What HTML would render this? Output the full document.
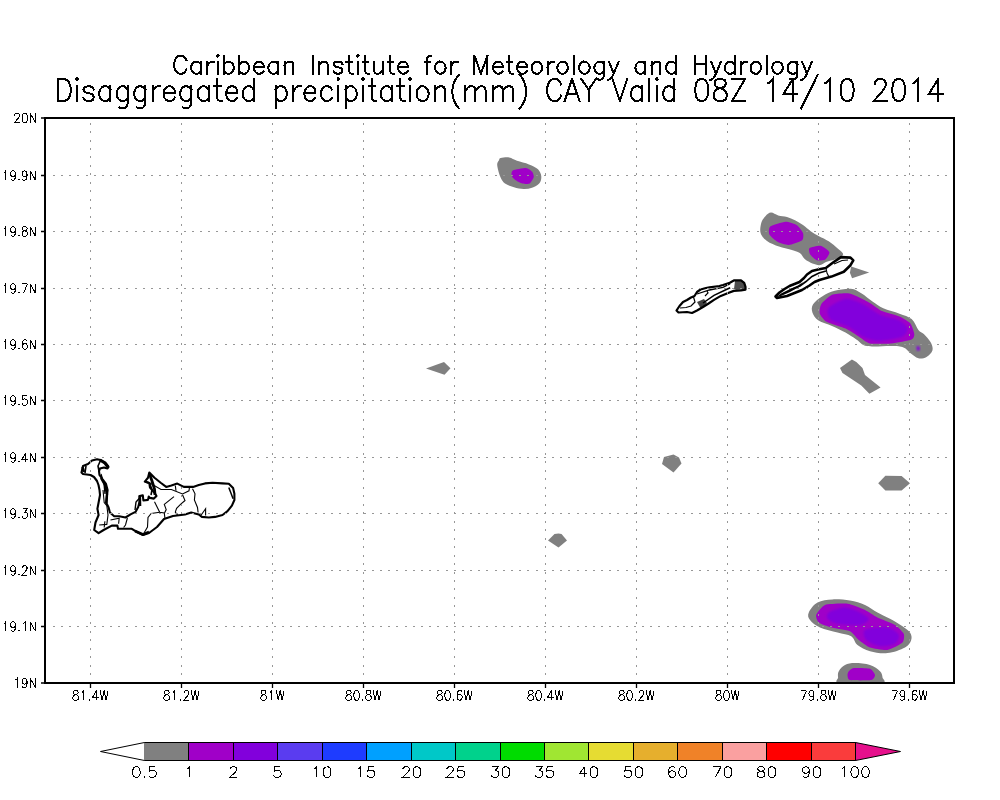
<!DOCTYPE html>
<html><head><meta charset="utf-8"><style>
html,body{margin:0;padding:0;background:#fff;width:1000px;height:800px;overflow:hidden}
svg{display:block}
</style></head><body>
<svg width="1000" height="800" viewBox="0 0 1000 800">
<rect width="1000" height="800" fill="#fff"/>

<path d="M186.29 60.05 185.49 58.35 183.88 56.65 182.27 55.80 179.05 55.80 177.44 56.65 175.83 58.35 175.02 60.05 174.22 62.60 174.22 66.85 175.02 69.40 175.83 71.10 177.44 72.80 179.05 73.65 182.27 73.65 183.88 72.80 185.49 71.10 186.29 69.40M200.78 61.75 200.78 73.65M200.78 64.30 199.17 62.60 197.56 61.75 195.15 61.75 193.54 62.60 191.93 64.30 191.12 66.85 191.12 68.55 191.93 71.10 193.54 72.80 195.15 73.65 197.56 73.65 199.17 72.80 200.78 71.10M207.22 61.75 207.22 73.65M207.22 66.85 208.03 64.30 209.64 62.60 211.25 61.75 213.66 61.75M216.88 55.80 217.69 56.65 218.49 55.80 217.69 54.95 216.88 55.80M217.69 61.75 217.69 73.65M224.12 55.80 224.12 73.65M224.12 64.30 225.74 62.60 227.35 61.75 229.76 61.75 231.37 62.60 232.98 64.30 233.79 66.85 233.79 68.55 232.98 71.10 231.37 72.80 229.76 73.65 227.35 73.65 225.74 72.80 224.12 71.10M239.42 55.80 239.42 73.65M239.42 64.30 241.03 62.60 242.64 61.75 245.06 61.75 246.67 62.60 248.28 64.30 249.08 66.85 249.08 68.55 248.28 71.10 246.67 72.80 245.06 73.65 242.64 73.65 241.03 72.80 239.42 71.10M253.91 66.85 263.57 66.85 263.57 65.15 262.76 63.45 261.96 62.60 260.35 61.75 257.94 61.75 256.33 62.60 254.72 64.30 253.91 66.85 253.91 68.55 254.72 71.10 256.33 72.80 257.94 73.65 260.35 73.65 261.96 72.80 263.57 71.10M278.06 61.75 278.06 73.65M278.06 64.30 276.45 62.60 274.84 61.75 272.43 61.75 270.81 62.60 269.21 64.30 268.40 66.85 268.40 68.55 269.21 71.10 270.81 72.80 272.43 73.65 274.84 73.65 276.45 72.80 278.06 71.10M284.50 61.75 284.50 73.65M284.50 65.15 286.92 62.60 288.53 61.75 290.94 61.75 292.55 62.60 293.36 65.15 293.36 73.65M312.68 55.80 312.68 73.65M319.12 61.75 319.12 73.65M319.12 65.15 321.53 62.60 323.14 61.75 325.56 61.75 327.17 62.60 327.97 65.15 327.97 73.65M342.46 64.30 341.66 62.60 339.24 61.75 336.83 61.75 334.41 62.60 333.61 64.30 334.41 66.00 336.02 66.85 340.05 67.70 341.66 68.55 342.46 70.25 342.46 71.10 341.66 72.80 339.24 73.65 336.83 73.65 334.41 72.80 333.61 71.10M348.90 55.80 348.90 70.25 349.71 72.80 351.32 73.65 352.93 73.65M346.49 61.75 352.12 61.75M356.95 55.80 357.75 56.65 358.56 55.80 357.75 54.95 356.95 55.80M357.75 61.75 357.75 73.65M365.00 55.80 365.00 70.25 365.81 72.80 367.42 73.65 369.03 73.65M362.59 61.75 368.22 61.75M373.86 61.75 373.86 70.25 374.66 72.80 376.27 73.65 378.69 73.65 380.30 72.80 382.71 70.25M382.71 61.75 382.71 73.65M389.96 55.80 389.96 70.25 390.76 72.80 392.37 73.65 393.98 73.65M387.54 61.75 393.18 61.75M398.00 66.85 407.67 66.85 407.67 65.15 406.86 63.45 406.06 62.60 404.45 61.75 402.03 61.75 400.42 62.60 398.81 64.30 398.00 66.85 398.00 68.55 398.81 71.10 400.42 72.80 402.03 73.65 404.45 73.65 406.06 72.80 407.67 71.10M431.01 55.80 429.40 55.80 427.79 56.65 426.99 59.20 426.99 73.65M424.57 61.75 430.21 61.75M439.06 61.75 437.45 62.60 435.84 64.30 435.04 66.85 435.04 68.55 435.84 71.10 437.45 72.80 439.06 73.65 441.48 73.65 443.09 72.80 444.70 71.10 445.50 68.55 445.50 66.85 444.70 64.30 443.09 62.60 441.48 61.75 439.06 61.75M451.14 61.75 451.14 73.65M451.14 66.85 451.94 64.30 453.55 62.60 455.16 61.75 457.58 61.75M474.48 55.80 474.48 73.65M474.48 55.80 480.92 73.65M487.36 55.80 480.92 73.65M487.36 55.80 487.36 73.65M493.00 66.85 502.66 66.85 502.66 65.15 501.85 63.45 501.05 62.60 499.44 61.75 497.02 61.75 495.41 62.60 493.80 64.30 493.00 66.85 493.00 68.55 493.80 71.10 495.41 72.80 497.02 73.65 499.44 73.65 501.05 72.80 502.66 71.10M509.10 55.80 509.10 70.25 509.90 72.80 511.51 73.65 513.12 73.65M506.68 61.75 512.32 61.75M517.14 66.85 526.81 66.85 526.81 65.15 526.00 63.45 525.20 62.60 523.59 61.75 521.17 61.75 519.56 62.60 517.95 64.30 517.14 66.85 517.14 68.55 517.95 71.10 519.56 72.80 521.17 73.65 523.59 73.65 525.20 72.80 526.81 71.10M535.66 61.75 534.05 62.60 532.44 64.30 531.63 66.85 531.63 68.55 532.44 71.10 534.05 72.80 535.66 73.65 538.08 73.65 539.69 72.80 541.30 71.10 542.10 68.55 542.10 66.85 541.30 64.30 539.69 62.60 538.08 61.75 535.66 61.75M547.74 61.75 547.74 73.65M547.74 66.85 548.54 64.30 550.15 62.60 551.76 61.75 554.17 61.75M561.42 61.75 559.81 62.60 558.20 64.30 557.39 66.85 557.39 68.55 558.20 71.10 559.81 72.80 561.42 73.65 563.84 73.65 565.45 72.80 567.06 71.10 567.86 68.55 567.86 66.85 567.06 64.30 565.45 62.60 563.84 61.75 561.42 61.75M573.50 55.80 573.50 73.65M583.15 61.75 581.55 62.60 579.94 64.30 579.13 66.85 579.13 68.55 579.94 71.10 581.55 72.80 583.15 73.65 585.57 73.65 587.18 72.80 588.79 71.10 589.60 68.55 589.60 66.85 588.79 64.30 587.18 62.60 585.57 61.75 583.15 61.75M604.09 61.75 604.09 75.35 603.28 77.90 602.48 78.75 600.87 79.60 598.45 79.60 596.84 78.75M604.09 64.30 602.48 62.60 600.87 61.75 598.45 61.75 596.84 62.60 595.23 64.30 594.42 66.85 594.42 68.55 595.23 71.10 596.84 72.80 598.45 73.65 600.87 73.65 602.48 72.80 604.09 71.10M608.91 61.75 613.75 73.65M618.58 61.75 613.75 73.65 612.13 77.05 610.53 78.75 608.91 79.60 608.11 79.60M645.14 61.75 645.14 73.65M645.14 64.30 643.53 62.60 641.92 61.75 639.51 61.75 637.89 62.60 636.29 64.30 635.48 66.85 635.48 68.55 636.29 71.10 637.89 72.80 639.51 73.65 641.92 73.65 643.53 72.80 645.14 71.10M651.58 61.75 651.58 73.65M651.58 65.15 654.00 62.60 655.61 61.75 658.02 61.75 659.63 62.60 660.44 65.15 660.44 73.65M675.73 55.80 675.73 73.65M675.73 64.30 674.12 62.60 672.51 61.75 670.10 61.75 668.49 62.60 666.88 64.30 666.07 66.85 666.07 68.55 666.88 71.10 668.49 72.80 670.10 73.65 672.51 73.65 674.12 72.80 675.73 71.10M695.05 55.80 695.05 73.65M706.32 55.80 706.32 73.65M695.05 64.30 706.32 64.30M711.15 61.75 715.98 73.65M720.81 61.75 715.98 73.65 714.37 77.05 712.76 78.75 711.15 79.60 710.35 79.60M734.50 55.80 734.50 73.65M734.50 64.30 732.88 62.60 731.28 61.75 728.86 61.75 727.25 62.60 725.64 64.30 724.84 66.85 724.84 68.55 725.64 71.10 727.25 72.80 728.86 73.65 731.28 73.65 732.88 72.80 734.50 71.10M740.93 61.75 740.93 73.65M740.93 66.85 741.74 64.30 743.35 62.60 744.96 61.75 747.38 61.75M754.62 61.75 753.01 62.60 751.40 64.30 750.60 66.85 750.60 68.55 751.40 71.10 753.01 72.80 754.62 73.65 757.04 73.65 758.64 72.80 760.26 71.10 761.06 68.55 761.06 66.85 760.26 64.30 758.64 62.60 757.04 61.75 754.62 61.75M766.69 55.80 766.69 73.65M776.36 61.75 774.75 62.60 773.13 64.30 772.33 66.85 772.33 68.55 773.13 71.10 774.75 72.80 776.36 73.65 778.77 73.65 780.38 72.80 781.99 71.10 782.80 68.55 782.80 66.85 781.99 64.30 780.38 62.60 778.77 61.75 776.36 61.75M797.29 61.75 797.29 75.35 796.48 77.90 795.67 78.75 794.07 79.60 791.65 79.60 790.04 78.75M797.29 64.30 795.67 62.60 794.07 61.75 791.65 61.75 790.04 62.60 788.43 64.30 787.62 66.85 787.62 68.55 788.43 71.10 790.04 72.80 791.65 73.65 794.07 73.65 795.67 72.80 797.29 71.10M802.12 61.75 806.94 73.65M811.78 61.75 806.94 73.65 805.34 77.05 803.73 78.75 802.12 79.60 801.31 79.60" fill="none" stroke="#000" stroke-width="2" stroke-linecap="square" stroke-linejoin="miter" shape-rendering="crispEdges"/>
<path d="M57.78 79.02 57.78 101.03M57.78 79.02 64.22 79.02 66.98 80.07 68.82 82.17 69.74 84.26 70.66 87.41 70.66 92.65 69.74 95.79 68.82 97.89 66.98 99.98 64.22 101.03 57.78 101.03M76.18 79.02 77.10 80.07 78.02 79.02 77.10 77.98 76.18 79.02M77.10 86.36 77.10 101.03M93.66 89.50 92.74 87.41 89.98 86.36 87.22 86.36 84.46 87.41 83.54 89.50 84.46 91.60 86.30 92.65 90.90 93.70 92.74 94.74 93.66 96.84 93.66 97.89 92.74 99.98 89.98 101.03 87.22 101.03 84.46 99.98 83.54 97.89M110.22 86.36 110.22 101.03M110.22 89.50 108.38 87.41 106.54 86.36 103.78 86.36 101.94 87.41 100.10 89.50 99.18 92.65 99.18 94.74 100.10 97.89 101.94 99.98 103.78 101.03 106.54 101.03 108.38 99.98 110.22 97.89M127.70 86.36 127.70 103.13 126.78 106.27 125.86 107.32 124.02 108.37 121.26 108.37 119.42 107.32M127.70 89.50 125.86 87.41 124.02 86.36 121.26 86.36 119.42 87.41 117.58 89.50 116.66 92.65 116.66 94.74 117.58 97.89 119.42 99.98 121.26 101.03 124.02 101.03 125.86 99.98 127.70 97.89M145.18 86.36 145.18 103.13 144.26 106.27 143.34 107.32 141.50 108.37 138.74 108.37 136.90 107.32M145.18 89.50 143.34 87.41 141.50 86.36 138.74 86.36 136.90 87.41 135.06 89.50 134.14 92.65 134.14 94.74 135.06 97.89 136.90 99.98 138.74 101.03 141.50 101.03 143.34 99.98 145.18 97.89M152.54 86.36 152.54 101.03M152.54 92.65 153.46 89.50 155.30 87.41 157.14 86.36 159.90 86.36M163.58 92.65 174.62 92.65 174.62 90.55 173.70 88.46 172.78 87.41 170.94 86.36 168.18 86.36 166.34 87.41 164.50 89.50 163.58 92.65 163.58 94.74 164.50 97.89 166.34 99.98 168.18 101.03 170.94 101.03 172.78 99.98 174.62 97.89M191.18 86.36 191.18 103.13 190.26 106.27 189.34 107.32 187.50 108.37 184.74 108.37 182.90 107.32M191.18 89.50 189.34 87.41 187.50 86.36 184.74 86.36 182.90 87.41 181.06 89.50 180.14 92.65 180.14 94.74 181.06 97.89 182.90 99.98 184.74 101.03 187.50 101.03 189.34 99.98 191.18 97.89M208.66 86.36 208.66 101.03M208.66 89.50 206.82 87.41 204.98 86.36 202.22 86.36 200.38 87.41 198.54 89.50 197.62 92.65 197.62 94.74 198.54 97.89 200.38 99.98 202.22 101.03 204.98 101.03 206.82 99.98 208.66 97.89M216.94 79.02 216.94 96.84 217.86 99.98 219.70 101.03 221.54 101.03M214.18 86.36 220.62 86.36M226.14 92.65 237.18 92.65 237.18 90.55 236.26 88.46 235.34 87.41 233.50 86.36 230.74 86.36 228.90 87.41 227.06 89.50 226.14 92.65 226.14 94.74 227.06 97.89 228.90 99.98 230.74 101.03 233.50 101.03 235.34 99.98 237.18 97.89M253.74 79.02 253.74 101.03M253.74 89.50 251.90 87.41 250.06 86.36 247.30 86.36 245.46 87.41 243.62 89.50 242.70 92.65 242.70 94.74 243.62 97.89 245.46 99.98 247.30 101.03 250.06 101.03 251.90 99.98 253.74 97.89M275.82 86.36 275.82 108.37M275.82 89.50 277.66 87.41 279.50 86.36 282.26 86.36 284.10 87.41 285.94 89.50 286.86 92.65 286.86 94.74 285.94 97.89 284.10 99.98 282.26 101.03 279.50 101.03 277.66 99.98 275.82 97.89M293.30 86.36 293.30 101.03M293.30 92.65 294.22 89.50 296.06 87.41 297.90 86.36 300.66 86.36M304.34 92.65 315.38 92.65 315.38 90.55 314.46 88.46 313.54 87.41 311.70 86.36 308.94 86.36 307.10 87.41 305.26 89.50 304.34 92.65 304.34 94.74 305.26 97.89 307.10 99.98 308.94 101.03 311.70 101.03 313.54 99.98 315.38 97.89M331.94 89.50 330.10 87.41 328.26 86.36 325.50 86.36 323.66 87.41 321.82 89.50 320.90 92.65 320.90 94.74 321.82 97.89 323.66 99.98 325.50 101.03 328.26 101.03 330.10 99.98 331.94 97.89M337.46 79.02 338.38 80.07 339.30 79.02 338.38 77.98 337.46 79.02M338.38 86.36 338.38 101.03M345.74 86.36 345.74 108.37M345.74 89.50 347.58 87.41 349.42 86.36 352.18 86.36 354.02 87.41 355.86 89.50 356.78 92.65 356.78 94.74 355.86 97.89 354.02 99.98 352.18 101.03 349.42 101.03 347.58 99.98 345.74 97.89M362.30 79.02 363.22 80.07 364.14 79.02 363.22 77.98 362.30 79.02M363.22 86.36 363.22 101.03M371.50 79.02 371.50 96.84 372.42 99.98 374.26 101.03 376.10 101.03M368.74 86.36 375.18 86.36M391.74 86.36 391.74 101.03M391.74 89.50 389.90 87.41 388.06 86.36 385.30 86.36 383.46 87.41 381.62 89.50 380.70 92.65 380.70 94.74 381.62 97.89 383.46 99.98 385.30 101.03 388.06 101.03 389.90 99.98 391.74 97.89M400.02 79.02 400.02 96.84 400.94 99.98 402.78 101.03 404.62 101.03M397.26 86.36 403.70 86.36M409.22 79.02 410.14 80.07 411.06 79.02 410.14 77.98 409.22 79.02M410.14 86.36 410.14 101.03M421.18 86.36 419.34 87.41 417.50 89.50 416.58 92.65 416.58 94.74 417.50 97.89 419.34 99.98 421.18 101.03 423.94 101.03 425.78 99.98 427.62 97.89 428.54 94.74 428.54 92.65 427.62 89.50 425.78 87.41 423.94 86.36 421.18 86.36M434.98 86.36 434.98 101.03M434.98 90.55 437.74 87.41 439.58 86.36 442.34 86.36 444.18 87.41 445.10 90.55 445.10 101.03M458.90 74.83 457.06 76.93 455.22 80.07 453.38 84.26 452.46 89.50 452.46 93.70 453.38 98.94 455.22 103.13 457.06 106.27 458.90 108.37M465.34 86.36 465.34 101.03M465.34 90.55 468.10 87.41 469.94 86.36 472.70 86.36 474.54 87.41 475.46 90.55 475.46 101.03M475.46 90.55 478.22 87.41 480.06 86.36 482.82 86.36 484.66 87.41 485.58 90.55 485.58 101.03M492.94 86.36 492.94 101.03M492.94 90.55 495.70 87.41 497.54 86.36 500.30 86.36 502.14 87.41 503.06 90.55 503.06 101.03M503.06 90.55 505.82 87.41 507.66 86.36 510.42 86.36 512.26 87.41 513.18 90.55 513.18 101.03M519.62 74.83 521.46 76.93 523.30 80.07 525.14 84.26 526.06 89.50 526.06 93.70 525.14 98.94 523.30 103.13 521.46 106.27 519.62 108.37M561.02 84.26 560.10 82.17 558.26 80.07 556.42 79.02 552.74 79.02 550.90 80.07 549.06 82.17 548.14 84.26 547.22 87.41 547.22 92.65 548.14 95.79 549.06 97.89 550.90 99.98 552.74 101.03 556.42 101.03 558.26 99.98 560.10 97.89 561.02 95.79M572.06 79.02 564.70 101.03M572.06 79.02 579.42 101.03M567.46 93.70 576.66 93.70M581.26 79.02 588.62 89.50 588.62 101.03M595.98 79.02 588.62 89.50M612.54 79.02 619.90 101.03M627.26 79.02 619.90 101.03M641.98 86.36 641.98 101.03M641.98 89.50 640.14 87.41 638.30 86.36 635.54 86.36 633.70 87.41 631.86 89.50 630.94 92.65 630.94 94.74 631.86 97.89 633.70 99.98 635.54 101.03 638.30 101.03 640.14 99.98 641.98 97.89M649.34 79.02 649.34 101.03M655.78 79.02 656.70 80.07 657.62 79.02 656.70 77.98 655.78 79.02M656.70 86.36 656.70 101.03M674.18 79.02 674.18 101.03M674.18 89.50 672.34 87.41 670.50 86.36 667.74 86.36 665.90 87.41 664.06 89.50 663.14 92.65 663.14 94.74 664.06 97.89 665.90 99.98 667.74 101.03 670.50 101.03 672.34 99.98 674.18 97.89M700.86 79.02 698.10 80.07 696.26 83.22 695.34 88.46 695.34 91.60 696.26 96.84 698.10 99.98 700.86 101.03 702.70 101.03 705.46 99.98 707.30 96.84 708.22 91.60 708.22 88.46 707.30 83.22 705.46 80.07 702.70 79.02 700.86 79.02M718.34 79.02 715.58 80.07 714.66 82.17 714.66 84.26 715.58 86.36 717.42 87.41 721.10 88.46 723.86 89.50 725.70 91.60 726.62 93.70 726.62 96.84 725.70 98.94 724.78 99.98 722.02 101.03 718.34 101.03 715.58 99.98 714.66 98.94 713.74 96.84 713.74 93.70 714.66 91.60 716.50 89.50 719.26 88.46 722.94 87.41 724.78 86.36 725.70 84.26 725.70 82.17 724.78 80.07 722.02 79.02 718.34 79.02M745.02 79.02 732.14 101.03M732.14 79.02 745.02 79.02M732.14 101.03 745.02 101.03M768.02 83.22 769.86 82.17 772.62 79.02 772.62 101.03M792.86 79.02 783.66 93.70 797.46 93.70M792.86 79.02 792.86 101.03M817.70 74.83 801.14 108.37M825.06 83.22 826.90 82.17 829.66 79.02 829.66 101.03M846.22 79.02 843.46 80.07 841.62 83.22 840.70 88.46 840.70 91.60 841.62 96.84 843.46 99.98 846.22 101.03 848.06 101.03 850.82 99.98 852.66 96.84 853.58 91.60 853.58 88.46 852.66 83.22 850.82 80.07 848.06 79.02 846.22 79.02M874.74 84.26 874.74 83.22 875.66 81.12 876.58 80.07 878.42 79.02 882.10 79.02 883.94 80.07 884.86 81.12 885.78 83.22 885.78 85.31 884.86 87.41 883.02 90.55 873.82 101.03 886.70 101.03M897.74 79.02 894.98 80.07 893.14 83.22 892.22 88.46 892.22 91.60 893.14 96.84 894.98 99.98 897.74 101.03 899.58 101.03 902.34 99.98 904.18 96.84 905.10 91.60 905.10 88.46 904.18 83.22 902.34 80.07 899.58 79.02 897.74 79.02M913.38 83.22 915.22 82.17 917.98 79.02 917.98 101.03M938.22 79.02 929.02 93.70 942.82 93.70M938.22 79.02 938.22 101.03" fill="none" stroke="#000" stroke-width="2" stroke-linecap="square" stroke-linejoin="miter" shape-rendering="crispEdges"/>
<defs><filter id="soft" x="-20%" y="-20%" width="140%" height="140%"><feGaussianBlur stdDeviation="0.8"/></filter></defs>
<path d="M500.8 158.1C502.5 157.7 506.5 157.1 509.2 157.5C511.9 157.9 513.7 159.7 517.0 160.8C520.3 162.0 525.5 163.0 529.0 164.4C532.5 165.8 536.0 167.2 538.0 169.2C540.0 171.2 541.1 174.0 541.3 176.4C541.5 178.8 540.8 181.7 539.2 183.6C537.7 185.5 534.6 186.9 532.0 187.8C529.4 188.7 526.6 189.1 523.6 189.0C520.6 188.9 517.1 188.1 514.0 187.2C510.9 186.3 507.3 185.4 505.0 183.6C502.7 181.8 501.5 179.5 500.2 176.4C498.9 173.3 497.4 167.7 497.2 165.0C497.0 162.3 498.4 161.3 499.0 160.2C499.6 159.0 499.1 158.5 500.8 158.1Z" fill="#808080"/>
<path d="M512.8 170.4C514.2 169.6 524.1 167.9 526.0 168.0C527.9 168.1 531.2 170.7 532.0 171.6C532.8 172.5 534.0 175.8 533.8 177.0C533.6 178.2 530.7 182.9 529.6 183.6C528.5 184.3 523.8 184.0 522.4 183.6C521.0 183.2 516.3 180.8 515.2 180.0C514.1 179.2 511.8 176.8 511.6 175.8C511.4 174.8 511.4 171.2 512.8 170.4Z" fill="#a000c8"/>
<path d="M771.0 212.6C773.1 212.5 775.5 214.7 778.2 215.4C780.9 216.1 784.2 216.2 787.0 217.0C789.8 217.8 792.3 218.9 795.0 220.2C797.7 221.5 800.3 223.1 803.0 225.0C805.7 226.9 808.3 229.5 811.0 231.4C813.7 233.3 816.0 234.5 819.0 236.2C822.0 237.8 825.6 239.2 828.7 241.3C831.8 243.4 835.3 246.3 837.7 248.5C840.1 250.7 843.4 252.7 843.1 254.4C842.8 256.1 838.9 257.7 836.0 259.0C833.1 260.3 828.9 261.0 826.0 262.0C823.1 263.0 822.1 265.5 818.8 265.2C815.5 264.9 809.4 262.2 806.2 260.2C803.0 258.2 802.3 254.7 799.8 253.0C797.3 251.3 794.5 250.9 791.0 249.8C787.5 248.7 783.0 248.1 779.0 246.6C775.0 245.1 770.1 243.3 767.0 241.0C763.9 238.7 761.5 236.1 760.6 233.0C759.7 229.9 760.6 225.4 761.4 222.6C762.2 219.8 763.8 217.9 765.4 216.2C767.0 214.5 768.9 212.7 771.0 212.6Z" fill="#808080"/>
<path d="M770.2 226.6C771.8 225.3 782.8 222.0 785.4 221.8C788.0 221.6 794.8 223.9 796.6 225.0C798.4 226.1 802.4 231.5 803.0 233.0C803.6 234.5 803.6 239.0 802.2 240.2C800.8 241.4 791.1 244.8 788.6 245.0C786.1 245.2 779.3 242.8 777.4 241.8C775.5 240.8 770.1 236.1 769.4 234.6C768.7 233.1 768.6 227.9 770.2 226.6Z" fill="#a000c8"/>
<path d="M809.4 248.2C810.4 247.3 818.6 245.4 820.6 245.8C822.6 246.2 828.9 250.8 829.4 252.2C829.9 253.6 826.7 258.6 825.4 259.4C824.1 260.2 818.1 260.7 816.6 260.2C815.1 259.7 810.9 255.8 810.2 254.6C809.5 253.4 808.4 249.1 809.4 248.2Z" fill="#a000c8"/>
<path d="M851.2 266.5L869.2 272.4L852.1 278.2L849.9 272.8Z" fill="#808080"/>
<path d="M813.1 304.3C814.8 301.6 818.9 298.4 822.5 296.2C826.1 293.9 830.0 292.0 834.7 290.8C839.4 289.6 846.4 288.4 850.9 288.8C855.4 289.2 858.1 291.4 861.7 293.5C865.3 295.6 868.9 299.1 872.5 301.6C876.1 304.1 878.8 306.3 883.3 308.3C887.8 310.3 894.8 311.9 899.5 313.7C904.2 315.5 908.5 316.4 911.6 319.1C914.8 321.8 916.4 327.4 918.4 329.9C920.4 332.4 921.8 332.0 923.8 334.0C925.8 336.0 929.0 339.4 930.5 342.1C932.0 344.8 933.2 347.7 932.5 350.2C931.8 352.7 928.9 355.5 926.5 356.9C924.1 358.2 921.1 359.0 918.4 358.3C915.7 357.6 912.8 354.7 910.3 352.9C907.8 351.1 906.6 348.6 903.5 347.5C900.4 346.4 897.5 346.3 891.4 346.1C885.3 345.9 873.0 347.2 867.1 346.1C861.2 345.0 859.9 341.6 856.3 339.4C852.7 337.1 849.5 334.9 845.5 332.6C841.5 330.4 836.5 327.9 832.0 325.9C827.5 323.9 821.8 322.8 818.5 320.5C815.2 318.2 813.3 315.1 812.4 312.4C811.5 309.7 811.4 307.0 813.1 304.3Z" fill="#808080"/>
<path d="M821.2 304.3C822.4 302.4 829.2 295.9 832.0 294.8C834.8 293.7 845.7 292.7 849.5 293.5C853.3 294.3 866.6 301.1 869.8 302.9C873.0 304.6 878.9 309.6 881.9 311.0C884.9 312.4 896.7 315.2 899.5 316.4C902.3 317.6 908.8 321.4 910.3 323.2C911.8 325.0 914.2 332.4 914.3 334.0C914.4 335.6 913.9 338.5 911.6 339.4C909.3 340.3 895.6 343.0 891.4 343.4C887.2 343.8 873.0 344.1 869.8 343.4C866.6 342.7 861.4 338.2 859.0 336.7C856.6 335.2 848.7 330.1 845.5 328.6C842.3 327.1 829.2 323.3 826.6 321.8C824.0 320.3 820.3 315.4 819.8 313.7C819.3 311.9 820.0 306.2 821.2 304.3Z" fill="#a000c8"/>
<path d="M829.3 307.0C831.6 305.0 841.0 299.3 845.5 298.9C850.0 298.5 858.3 302.1 863.0 304.3C867.7 306.5 875.7 312.9 880.6 315.1C885.5 317.3 895.9 318.7 899.5 320.5C903.1 322.3 907.2 326.4 907.6 328.6C908.0 330.8 906.0 335.1 902.2 336.7C898.4 338.3 884.4 340.7 879.2 340.7C874.0 340.7 867.0 338.5 863.0 336.7C859.0 334.9 853.6 329.4 849.5 327.2C845.4 325.0 834.9 322.3 832.0 320.5C829.1 318.7 828.3 315.5 827.9 313.7C827.5 311.9 827.0 309.0 829.3 307.0Z" fill="#8200dc" filter="url(#soft)"/>
<path d="M916.5 346.0L919.5 346.5L920.0 350.0L917.0 351.0Z" fill="#8200dc" filter="url(#soft)"/>
<path d="M840.0 368.1L851.9 359.4L856.3 361.9L862.5 368.1L865.0 375.0L880.6 387.5L869.4 393.8L861.3 385.6L853.8 380.6L842.5 373.1Z" fill="#808080"/>
<path d="M426.0 368.5L444.0 362.0L450.5 368.2L444.5 374.8Z" fill="#808080"/>
<path d="M673.5 454.5L679.0 457.5L681.5 463.5L673.5 472.5L662.0 464.0L664.0 457.0Z" fill="#808080"/>
<path d="M558.5 533.5L561.5 534.0L567.0 540.5L558.5 547.5L548.0 540.5L554.5 534.0Z" fill="#808080"/>
<path d="M878.2 483.3L885.4 475.8L901.6 476.1L910.0 483.3L901.6 490.5L885.4 490.5Z" fill="#808080"/>
<path d="M808.8 612.5C810.0 609.6 813.5 604.7 817.5 602.5C821.5 600.3 827.1 599.7 832.5 599.4C837.9 599.1 844.6 599.7 850.0 600.6C855.4 601.5 860.4 603.0 865.0 605.0C869.6 607.0 873.3 610.2 877.5 612.5C881.7 614.8 885.8 616.5 890.0 618.8C894.2 621.0 899.2 624.0 902.5 626.2C905.8 628.5 908.5 630.2 910.0 632.5C911.5 634.8 912.1 637.5 911.2 640.0C910.4 642.5 909.0 645.3 905.0 647.5C901.0 649.7 893.3 652.5 887.5 653.1C881.7 653.7 875.0 652.6 870.0 651.2C865.0 649.9 860.6 647.5 857.5 645.0C854.4 642.5 854.6 638.3 851.2 636.2C847.9 634.2 842.7 634.0 837.5 632.5C832.3 631.0 824.6 629.6 820.0 627.5C815.4 625.4 811.9 622.5 810.0 620.0C808.1 617.5 807.5 615.4 808.8 612.5Z" fill="#808080"/>
<path d="M816.2 615.0C816.9 613.2 821.9 606.1 825.0 605.0C828.1 603.9 843.5 603.2 847.5 603.8C851.5 604.2 862.0 608.6 865.0 610.0C868.0 611.4 874.5 616.0 877.5 617.5C880.5 619.0 892.4 623.4 895.0 625.0C897.6 626.6 903.0 632.0 903.8 633.8C904.5 635.5 904.1 640.9 902.5 642.5C900.9 644.1 890.8 649.5 887.5 650.0C884.2 650.5 872.9 648.5 870.0 647.5C867.1 646.5 860.8 641.6 858.8 640.0C856.8 638.4 852.8 632.5 850.0 631.2C847.2 630.0 834.4 628.4 831.2 627.5C828.1 626.6 820.2 623.8 818.8 622.5C817.2 621.2 815.6 616.8 816.2 615.0Z" fill="#a000c8"/>
<path d="M828.8 612.5C830.9 611.0 839.9 607.7 843.8 607.5C847.6 607.3 854.2 609.8 857.5 611.2C860.8 612.8 868.4 616.9 868.8 618.8C869.1 620.6 864.2 624.3 860.0 625.0C855.8 625.7 841.8 624.6 837.5 623.8C833.2 622.9 828.7 620.2 827.5 618.8C826.3 617.2 826.6 614.0 828.8 612.5Z" fill="#8200dc" filter="url(#soft)"/>
<path d="M865.0 630.0C867.8 628.3 883.0 626.8 887.5 627.5C892.0 628.2 897.8 632.8 898.8 635.0C899.8 637.2 897.5 642.2 895.0 643.8C892.5 645.2 883.8 646.8 880.0 646.2C876.2 645.8 868.2 642.2 866.2 640.0C864.2 637.8 862.2 631.7 865.0 630.0Z" fill="#8200dc" filter="url(#soft)"/>
<path d="M838.8 671.2C839.9 669.2 842.3 666.4 845.0 665.0C847.7 663.6 850.8 663.1 855.0 663.1C859.2 663.1 865.8 663.6 870.0 665.0C874.2 666.4 877.9 669.2 880.0 671.2C882.1 673.3 882.3 675.5 882.5 677.5C882.7 679.5 888.3 682.1 881.2 683.0C874.2 683.9 847.2 683.9 840.0 683.0C832.8 682.1 838.3 679.5 838.1 677.5C837.9 675.5 837.6 673.3 838.8 671.2Z" fill="#808080"/>
<path d="M848.8 671.2C849.4 670.6 851.6 668.4 853.8 668.1C855.9 667.9 867.9 668.1 870.0 668.8C872.1 669.4 874.9 673.9 875.0 675.0C875.1 676.1 873.8 679.5 871.2 680.0C868.8 680.5 852.4 680.5 850.0 680.0C847.6 679.5 847.6 675.9 847.5 675.0C847.4 674.1 848.1 671.9 848.8 671.2Z" fill="#a000c8"/><path d="M776 297.5L781 293.5L790 289L798 285.5L803 282L799 287L790 292L781 296Z" fill="#000"/>
<path d="M775.5 296.5L779.5 292.5L784.5 289.0L789.5 286.0L794.5 284.0L799.5 282.0L804.0 278.0L807.0 274.5L812.0 271.0L818.0 269.5L825.8 268.0L833.4 262.3L841.0 257.1L850.5 257.6L853.3 260.4L850.5 265.2L843.8 271.8L831.5 276.6L822.0 279.2L819.5 280.0L814.5 282.0L809.5 285.5L802.0 290.0L794.5 293.0L787.0 296.0L777.0 298.0Z" fill="none" stroke="#000" stroke-width="2.6" stroke-linejoin="round"/>
<path d="M790.0 290.0L800.0 286.0L806.0 281.5L812.0 276.5L819.0 273.0L826.0 271.0" fill="none" stroke="#000" stroke-width="1.6"/>
<path d="M826.0 268.0L827.0 273.0L829.0 277.0" fill="none" stroke="#000" stroke-width="1.1"/>
<path d="M834.0 264.0L842.0 260.5L848.0 260.0" fill="none" stroke="#000" stroke-width="1.2"/>
<path d="M676.5 310.5L679.5 306.0L683.0 302.0L687.0 300.0L691.0 297.5L694.5 296.0L697.0 292.0L700.5 289.5L706.0 288.0L709.5 287.3L719.4 286.0L723.0 285.0L729.8 282.8L734.3 280.3L741.0 280.3L744.2 282.8L745.5 286.9L745.5 289.6L741.0 290.5L733.8 290.9L727.5 293.2L720.8 295.9L714.0 299.9L708.6 303.5L703.0 307.0L697.0 310.5L692.0 313.0L687.0 312.0L678.5 312.5Z" fill="none" stroke="#000" stroke-width="2.2" stroke-linejoin="round"/>
<path d="M693.5 297.0L695.0 302.0L691.0 306.0L686.0 307.5L680.0 308.0" fill="none" stroke="#000" stroke-width="1.2"/>
<path d="M705.0 296.0L708.0 293.0L707.0 291.0" fill="none" stroke="#000" stroke-width="1.2"/>
<path d="M697.0 294.0L709.5 290.0L723.0 287.3L730.2 283.7" fill="none" stroke="#000" stroke-width="1.3"/>
<path d="M703.0 303.0L714.0 295.4L725.3 290.0L730.2 287.8" fill="none" stroke="#000" stroke-width="1.5"/>
<path d="M697 302L704 299L707 303L701 309Z" fill="#000" fill-opacity="0.75"/>
<path d="M735 281L742 280.5L745.5 285L745.5 290L738 291L734 289Z" fill="#000" fill-opacity="0.7"/>
<path d="M81.5 472.5L83.0 466.0L88.0 464.0L92.0 460.5L97.0 459.2L100.5 460.0L106.0 464.0L108.5 467.0L107.5 468.5L104.0 467.5L100.0 468.5L99.0 471.0L99.5 475.0L103.0 480.0L106.0 484.0L107.6 490.0L106.1 502.5L108.6 507.5L109.9 512.5L114.2 516.2L119.2 516.2L125.5 517.5L130.5 514.4L135.5 511.9L138.2 507.0L139.6 501.8L139.6 496.0L142.8 495.3L143.4 500.5L148.0 499.9L148.7 496.6L150.0 497.9L153.9 498.6L156.5 496.0L154.5 492.7L150.0 487.5L149.3 483.0L144.8 481.6L148.0 477.8L149.3 472.6L154.5 477.8L161.0 483.0L166.2 486.9L171.4 485.6L177.3 483.6L183.8 486.9L193.1 486.9L198.8 485.0L205.0 483.4L212.5 482.8L222.5 483.4L228.8 483.8L233.1 488.1L234.4 493.8L234.4 500.0L231.9 505.6L227.5 511.2L222.5 515.0L215.0 516.9L208.8 517.5L201.9 516.9L198.8 514.4L191.2 512.5L185.0 514.5L173.0 516.0L164.0 519.0L157.0 527.0L149.0 533.0L143.0 535.0L135.5 531.2L131.8 528.8L118.0 528.8L117.4 525.6L111.8 525.6L103.6 530.0L98.6 533.1L94.2 530.0L95.5 522.5L98.6 515.0L97.4 508.8L98.6 502.5L100.0 495.0L99.5 490.0L98.5 485.0L97.0 481.0L94.0 477.0L90.5 475.0L83.0 474.0Z" fill="none" stroke="#000" stroke-width="2.1" stroke-linejoin="round"/>
<path d="M192.5 488.8L195.0 493.8L194.4 500.0L197.5 507.5L198.1 512.5" fill="none" stroke="#000" stroke-width="1.1"/>
<path d="M228.8 487.5L233.1 498.8" fill="none" stroke="#000" stroke-width="1.5"/>
<path d="M201.2 515.0L205.6 508.8L205.6 515.6" fill="none" stroke="#000" stroke-width="1.1"/>
<path d="M149.9 483.0L161.0 489.5L171.4 489.5L182.5 494.0L189.0 490.8L189.5 487.0" fill="none" stroke="#000" stroke-width="1.1"/>
<path d="M175.3 485.6L176.0 490.8" fill="none" stroke="#000" stroke-width="1.1"/>
<path d="M154.5 501.8L159.7 512.2L164.3 512.9L164.9 518.0" fill="none" stroke="#000" stroke-width="1.1"/>
<path d="M159.7 512.2L151.2 513.5L148.0 517.4L147.5 527.0L144.0 533.0" fill="none" stroke="#000" stroke-width="1.1"/>
<path d="M182.5 494.7L185.0 500.5L180.5 504.4L176.6 508.3L175.3 512.2L177.9 515.5" fill="none" stroke="#000" stroke-width="1.1"/>
<path d="M174.0 496.6L164.3 504.4L166.2 509.6L164.5 513.0" fill="none" stroke="#000" stroke-width="1.1"/>
<path d="M103.0 490.0L104.2 502.5L106.8 505.6L108.0 515.0L106.8 524.4L99.2 525.0" fill="none" stroke="#000" stroke-width="1.1"/>
<path d="M104.9 521.2L104.2 527.5" fill="none" stroke="#000" stroke-width="1.1"/>
<path d="M110.5 520.0L119.2 518.1L118.6 523.8" fill="none" stroke="#000" stroke-width="1.1"/>
<path d="M127.4 518.0L125.5 525.0L123.6 527.5" fill="none" stroke="#000" stroke-width="1.1"/>
<path d="M100.5 460.5L98.0 466.0L99.0 471.0" fill="none" stroke="#000" stroke-width="1.6"/>
<path d="M86.0 466.0L85.0 473.0" fill="none" stroke="#000" stroke-width="1.6"/>
<path d="M101.0 474.0L104.0 484.0L105.0 494.0" fill="none" stroke="#000" stroke-width="1.3"/>
<path d="M150.0 484.0L152.0 490.0L151.0 495.0" fill="none" stroke="#000" stroke-width="1.6"/>
<path d="M139.6 498.0L136.0 502.0L135.0 510.0" fill="none" stroke="#000" stroke-width="1.4"/>
<path d="M100.0 460.0L105.0 463.0L108.0 467.0" fill="none" stroke="#000" stroke-width="3.2"/>
<path d="M82.5 467.0L84.0 472.0" fill="none" stroke="#000" stroke-width="2.5"/>
<path d="M101.0 478.0L105.0 485.0L107.0 494.0L106.5 503.0" fill="none" stroke="#000" stroke-width="2.4"/>
<path d="M149.5 474.0L152.0 481.0L154.5 489.0L155.0 495.0" fill="none" stroke="#000" stroke-width="2.8"/>
<path d="M139.8 495.5L140.0 506.0" fill="none" stroke="#000" stroke-width="2.6"/>
<path d="M145.0 481.5L149.0 483.0" fill="none" stroke="#000" stroke-width="2.4"/>
<path d="M135.0 531.0L143.0 534.5L149.0 532.0" fill="none" stroke="#000" stroke-width="2.6"/>
<path d="M90 123h1v2h-1zM90 131h1v2h-1zM90 140h1v2h-1zM90 148h1v2h-1zM90 156h1v2h-1zM90 165h1v2h-1zM90 173h1v2h-1zM90 182h1v2h-1zM90 190h1v2h-1zM90 199h1v2h-1zM90 207h1v2h-1zM90 216h1v2h-1zM90 224h1v2h-1zM90 233h1v2h-1zM90 241h1v2h-1zM90 250h1v2h-1zM90 258h1v2h-1zM90 267h1v2h-1zM90 275h1v2h-1zM90 284h1v2h-1zM90 292h1v2h-1zM90 300h1v2h-1zM90 309h1v2h-1zM90 317h1v2h-1zM90 326h1v2h-1zM90 334h1v2h-1zM90 343h1v2h-1zM90 351h1v2h-1zM90 360h1v2h-1zM90 368h1v2h-1zM90 377h1v2h-1zM90 385h1v2h-1zM90 394h1v2h-1zM90 402h1v2h-1zM90 411h1v2h-1zM90 419h1v2h-1zM90 428h1v2h-1zM90 436h1v2h-1zM90 444h1v2h-1zM90 453h1v2h-1zM90 461h1v2h-1zM90 470h1v2h-1zM90 478h1v2h-1zM90 487h1v2h-1zM90 495h1v2h-1zM90 504h1v2h-1zM90 512h1v2h-1zM90 521h1v2h-1zM90 529h1v2h-1zM90 538h1v2h-1zM90 546h1v2h-1zM90 555h1v2h-1zM90 563h1v2h-1zM90 572h1v2h-1zM90 580h1v2h-1zM90 588h1v2h-1zM90 597h1v2h-1zM90 605h1v2h-1zM90 614h1v2h-1zM90 622h1v2h-1zM90 631h1v2h-1zM90 639h1v2h-1zM90 648h1v2h-1zM90 656h1v2h-1zM90 665h1v2h-1zM90 673h1v2h-1zM181 123h1v2h-1zM181 131h1v2h-1zM181 140h1v2h-1zM181 148h1v2h-1zM181 156h1v2h-1zM181 165h1v2h-1zM181 173h1v2h-1zM181 182h1v2h-1zM181 190h1v2h-1zM181 199h1v2h-1zM181 207h1v2h-1zM181 216h1v2h-1zM181 224h1v2h-1zM181 233h1v2h-1zM181 241h1v2h-1zM181 250h1v2h-1zM181 258h1v2h-1zM181 267h1v2h-1zM181 275h1v2h-1zM181 284h1v2h-1zM181 292h1v2h-1zM181 300h1v2h-1zM181 309h1v2h-1zM181 317h1v2h-1zM181 326h1v2h-1zM181 334h1v2h-1zM181 343h1v2h-1zM181 351h1v2h-1zM181 360h1v2h-1zM181 368h1v2h-1zM181 377h1v2h-1zM181 385h1v2h-1zM181 394h1v2h-1zM181 402h1v2h-1zM181 411h1v2h-1zM181 419h1v2h-1zM181 428h1v2h-1zM181 436h1v2h-1zM181 444h1v2h-1zM181 453h1v2h-1zM181 461h1v2h-1zM181 470h1v2h-1zM181 478h1v2h-1zM181 487h1v2h-1zM181 495h1v2h-1zM181 504h1v2h-1zM181 512h1v2h-1zM181 521h1v2h-1zM181 529h1v2h-1zM181 538h1v2h-1zM181 546h1v2h-1zM181 555h1v2h-1zM181 563h1v2h-1zM181 572h1v2h-1zM181 580h1v2h-1zM181 588h1v2h-1zM181 597h1v2h-1zM181 605h1v2h-1zM181 614h1v2h-1zM181 622h1v2h-1zM181 631h1v2h-1zM181 639h1v2h-1zM181 648h1v2h-1zM181 656h1v2h-1zM181 665h1v2h-1zM181 673h1v2h-1zM272 123h1v2h-1zM272 131h1v2h-1zM272 140h1v2h-1zM272 148h1v2h-1zM272 156h1v2h-1zM272 165h1v2h-1zM272 173h1v2h-1zM272 182h1v2h-1zM272 190h1v2h-1zM272 199h1v2h-1zM272 207h1v2h-1zM272 216h1v2h-1zM272 224h1v2h-1zM272 233h1v2h-1zM272 241h1v2h-1zM272 250h1v2h-1zM272 258h1v2h-1zM272 267h1v2h-1zM272 275h1v2h-1zM272 284h1v2h-1zM272 292h1v2h-1zM272 300h1v2h-1zM272 309h1v2h-1zM272 317h1v2h-1zM272 326h1v2h-1zM272 334h1v2h-1zM272 343h1v2h-1zM272 351h1v2h-1zM272 360h1v2h-1zM272 368h1v2h-1zM272 377h1v2h-1zM272 385h1v2h-1zM272 394h1v2h-1zM272 402h1v2h-1zM272 411h1v2h-1zM272 419h1v2h-1zM272 428h1v2h-1zM272 436h1v2h-1zM272 444h1v2h-1zM272 453h1v2h-1zM272 461h1v2h-1zM272 470h1v2h-1zM272 478h1v2h-1zM272 487h1v2h-1zM272 495h1v2h-1zM272 504h1v2h-1zM272 512h1v2h-1zM272 521h1v2h-1zM272 529h1v2h-1zM272 538h1v2h-1zM272 546h1v2h-1zM272 555h1v2h-1zM272 563h1v2h-1zM272 572h1v2h-1zM272 580h1v2h-1zM272 588h1v2h-1zM272 597h1v2h-1zM272 605h1v2h-1zM272 614h1v2h-1zM272 622h1v2h-1zM272 631h1v2h-1zM272 639h1v2h-1zM272 648h1v2h-1zM272 656h1v2h-1zM272 665h1v2h-1zM272 673h1v2h-1zM363 123h1v2h-1zM363 131h1v2h-1zM363 140h1v2h-1zM363 148h1v2h-1zM363 156h1v2h-1zM363 165h1v2h-1zM363 173h1v2h-1zM363 182h1v2h-1zM363 190h1v2h-1zM363 199h1v2h-1zM363 207h1v2h-1zM363 216h1v2h-1zM363 224h1v2h-1zM363 233h1v2h-1zM363 241h1v2h-1zM363 250h1v2h-1zM363 258h1v2h-1zM363 267h1v2h-1zM363 275h1v2h-1zM363 284h1v2h-1zM363 292h1v2h-1zM363 300h1v2h-1zM363 309h1v2h-1zM363 317h1v2h-1zM363 326h1v2h-1zM363 334h1v2h-1zM363 343h1v2h-1zM363 351h1v2h-1zM363 360h1v2h-1zM363 368h1v2h-1zM363 377h1v2h-1zM363 385h1v2h-1zM363 394h1v2h-1zM363 402h1v2h-1zM363 411h1v2h-1zM363 419h1v2h-1zM363 428h1v2h-1zM363 436h1v2h-1zM363 444h1v2h-1zM363 453h1v2h-1zM363 461h1v2h-1zM363 470h1v2h-1zM363 478h1v2h-1zM363 487h1v2h-1zM363 495h1v2h-1zM363 504h1v2h-1zM363 512h1v2h-1zM363 521h1v2h-1zM363 529h1v2h-1zM363 538h1v2h-1zM363 546h1v2h-1zM363 555h1v2h-1zM363 563h1v2h-1zM363 572h1v2h-1zM363 580h1v2h-1zM363 588h1v2h-1zM363 597h1v2h-1zM363 605h1v2h-1zM363 614h1v2h-1zM363 622h1v2h-1zM363 631h1v2h-1zM363 639h1v2h-1zM363 648h1v2h-1zM363 656h1v2h-1zM363 665h1v2h-1zM363 673h1v2h-1zM454 123h1v2h-1zM454 131h1v2h-1zM454 140h1v2h-1zM454 148h1v2h-1zM454 156h1v2h-1zM454 165h1v2h-1zM454 173h1v2h-1zM454 182h1v2h-1zM454 190h1v2h-1zM454 199h1v2h-1zM454 207h1v2h-1zM454 216h1v2h-1zM454 224h1v2h-1zM454 233h1v2h-1zM454 241h1v2h-1zM454 250h1v2h-1zM454 258h1v2h-1zM454 267h1v2h-1zM454 275h1v2h-1zM454 284h1v2h-1zM454 292h1v2h-1zM454 300h1v2h-1zM454 309h1v2h-1zM454 317h1v2h-1zM454 326h1v2h-1zM454 334h1v2h-1zM454 343h1v2h-1zM454 351h1v2h-1zM454 360h1v2h-1zM454 368h1v2h-1zM454 377h1v2h-1zM454 385h1v2h-1zM454 394h1v2h-1zM454 402h1v2h-1zM454 411h1v2h-1zM454 419h1v2h-1zM454 428h1v2h-1zM454 436h1v2h-1zM454 444h1v2h-1zM454 453h1v2h-1zM454 461h1v2h-1zM454 470h1v2h-1zM454 478h1v2h-1zM454 487h1v2h-1zM454 495h1v2h-1zM454 504h1v2h-1zM454 512h1v2h-1zM454 521h1v2h-1zM454 529h1v2h-1zM454 538h1v2h-1zM454 546h1v2h-1zM454 555h1v2h-1zM454 563h1v2h-1zM454 572h1v2h-1zM454 580h1v2h-1zM454 588h1v2h-1zM454 597h1v2h-1zM454 605h1v2h-1zM454 614h1v2h-1zM454 622h1v2h-1zM454 631h1v2h-1zM454 639h1v2h-1zM454 648h1v2h-1zM454 656h1v2h-1zM454 665h1v2h-1zM454 673h1v2h-1zM545 123h1v2h-1zM545 131h1v2h-1zM545 140h1v2h-1zM545 148h1v2h-1zM545 156h1v2h-1zM545 165h1v2h-1zM545 173h1v2h-1zM545 182h1v2h-1zM545 190h1v2h-1zM545 199h1v2h-1zM545 207h1v2h-1zM545 216h1v2h-1zM545 224h1v2h-1zM545 233h1v2h-1zM545 241h1v2h-1zM545 250h1v2h-1zM545 258h1v2h-1zM545 267h1v2h-1zM545 275h1v2h-1zM545 284h1v2h-1zM545 292h1v2h-1zM545 300h1v2h-1zM545 309h1v2h-1zM545 317h1v2h-1zM545 326h1v2h-1zM545 334h1v2h-1zM545 343h1v2h-1zM545 351h1v2h-1zM545 360h1v2h-1zM545 368h1v2h-1zM545 377h1v2h-1zM545 385h1v2h-1zM545 394h1v2h-1zM545 402h1v2h-1zM545 411h1v2h-1zM545 419h1v2h-1zM545 428h1v2h-1zM545 436h1v2h-1zM545 444h1v2h-1zM545 453h1v2h-1zM545 461h1v2h-1zM545 470h1v2h-1zM545 478h1v2h-1zM545 487h1v2h-1zM545 495h1v2h-1zM545 504h1v2h-1zM545 512h1v2h-1zM545 521h1v2h-1zM545 529h1v2h-1zM545 538h1v2h-1zM545 546h1v2h-1zM545 555h1v2h-1zM545 563h1v2h-1zM545 572h1v2h-1zM545 580h1v2h-1zM545 588h1v2h-1zM545 597h1v2h-1zM545 605h1v2h-1zM545 614h1v2h-1zM545 622h1v2h-1zM545 631h1v2h-1zM545 639h1v2h-1zM545 648h1v2h-1zM545 656h1v2h-1zM545 665h1v2h-1zM545 673h1v2h-1zM636 123h1v2h-1zM636 131h1v2h-1zM636 140h1v2h-1zM636 148h1v2h-1zM636 156h1v2h-1zM636 165h1v2h-1zM636 173h1v2h-1zM636 182h1v2h-1zM636 190h1v2h-1zM636 199h1v2h-1zM636 207h1v2h-1zM636 216h1v2h-1zM636 224h1v2h-1zM636 233h1v2h-1zM636 241h1v2h-1zM636 250h1v2h-1zM636 258h1v2h-1zM636 267h1v2h-1zM636 275h1v2h-1zM636 284h1v2h-1zM636 292h1v2h-1zM636 300h1v2h-1zM636 309h1v2h-1zM636 317h1v2h-1zM636 326h1v2h-1zM636 334h1v2h-1zM636 343h1v2h-1zM636 351h1v2h-1zM636 360h1v2h-1zM636 368h1v2h-1zM636 377h1v2h-1zM636 385h1v2h-1zM636 394h1v2h-1zM636 402h1v2h-1zM636 411h1v2h-1zM636 419h1v2h-1zM636 428h1v2h-1zM636 436h1v2h-1zM636 444h1v2h-1zM636 453h1v2h-1zM636 461h1v2h-1zM636 470h1v2h-1zM636 478h1v2h-1zM636 487h1v2h-1zM636 495h1v2h-1zM636 504h1v2h-1zM636 512h1v2h-1zM636 521h1v2h-1zM636 529h1v2h-1zM636 538h1v2h-1zM636 546h1v2h-1zM636 555h1v2h-1zM636 563h1v2h-1zM636 572h1v2h-1zM636 580h1v2h-1zM636 588h1v2h-1zM636 597h1v2h-1zM636 605h1v2h-1zM636 614h1v2h-1zM636 622h1v2h-1zM636 631h1v2h-1zM636 639h1v2h-1zM636 648h1v2h-1zM636 656h1v2h-1zM636 665h1v2h-1zM636 673h1v2h-1zM727 123h1v2h-1zM727 131h1v2h-1zM727 140h1v2h-1zM727 148h1v2h-1zM727 156h1v2h-1zM727 165h1v2h-1zM727 173h1v2h-1zM727 182h1v2h-1zM727 190h1v2h-1zM727 199h1v2h-1zM727 207h1v2h-1zM727 216h1v2h-1zM727 224h1v2h-1zM727 233h1v2h-1zM727 241h1v2h-1zM727 250h1v2h-1zM727 258h1v2h-1zM727 267h1v2h-1zM727 275h1v2h-1zM727 284h1v2h-1zM727 292h1v2h-1zM727 300h1v2h-1zM727 309h1v2h-1zM727 317h1v2h-1zM727 326h1v2h-1zM727 334h1v2h-1zM727 343h1v2h-1zM727 351h1v2h-1zM727 360h1v2h-1zM727 368h1v2h-1zM727 377h1v2h-1zM727 385h1v2h-1zM727 394h1v2h-1zM727 402h1v2h-1zM727 411h1v2h-1zM727 419h1v2h-1zM727 428h1v2h-1zM727 436h1v2h-1zM727 444h1v2h-1zM727 453h1v2h-1zM727 461h1v2h-1zM727 470h1v2h-1zM727 478h1v2h-1zM727 487h1v2h-1zM727 495h1v2h-1zM727 504h1v2h-1zM727 512h1v2h-1zM727 521h1v2h-1zM727 529h1v2h-1zM727 538h1v2h-1zM727 546h1v2h-1zM727 555h1v2h-1zM727 563h1v2h-1zM727 572h1v2h-1zM727 580h1v2h-1zM727 588h1v2h-1zM727 597h1v2h-1zM727 605h1v2h-1zM727 614h1v2h-1zM727 622h1v2h-1zM727 631h1v2h-1zM727 639h1v2h-1zM727 648h1v2h-1zM727 656h1v2h-1zM727 665h1v2h-1zM727 673h1v2h-1zM818 123h1v2h-1zM818 131h1v2h-1zM818 140h1v2h-1zM818 148h1v2h-1zM818 156h1v2h-1zM818 165h1v2h-1zM818 173h1v2h-1zM818 182h1v2h-1zM818 190h1v2h-1zM818 199h1v2h-1zM818 207h1v2h-1zM818 216h1v2h-1zM818 224h1v2h-1zM818 233h1v2h-1zM818 241h1v2h-1zM818 250h1v2h-1zM818 258h1v2h-1zM818 267h1v2h-1zM818 275h1v2h-1zM818 284h1v2h-1zM818 292h1v2h-1zM818 300h1v2h-1zM818 309h1v2h-1zM818 317h1v2h-1zM818 326h1v2h-1zM818 334h1v2h-1zM818 343h1v2h-1zM818 351h1v2h-1zM818 360h1v2h-1zM818 368h1v2h-1zM818 377h1v2h-1zM818 385h1v2h-1zM818 394h1v2h-1zM818 402h1v2h-1zM818 411h1v2h-1zM818 419h1v2h-1zM818 428h1v2h-1zM818 436h1v2h-1zM818 444h1v2h-1zM818 453h1v2h-1zM818 461h1v2h-1zM818 470h1v2h-1zM818 478h1v2h-1zM818 487h1v2h-1zM818 495h1v2h-1zM818 504h1v2h-1zM818 512h1v2h-1zM818 521h1v2h-1zM818 529h1v2h-1zM818 538h1v2h-1zM818 546h1v2h-1zM818 555h1v2h-1zM818 563h1v2h-1zM818 572h1v2h-1zM818 580h1v2h-1zM818 588h1v2h-1zM818 597h1v2h-1zM818 605h1v2h-1zM818 614h1v2h-1zM818 622h1v2h-1zM818 631h1v2h-1zM818 639h1v2h-1zM818 648h1v2h-1zM818 656h1v2h-1zM818 665h1v2h-1zM818 673h1v2h-1zM909 123h1v2h-1zM909 131h1v2h-1zM909 140h1v2h-1zM909 148h1v2h-1zM909 156h1v2h-1zM909 165h1v2h-1zM909 173h1v2h-1zM909 182h1v2h-1zM909 190h1v2h-1zM909 199h1v2h-1zM909 207h1v2h-1zM909 216h1v2h-1zM909 224h1v2h-1zM909 233h1v2h-1zM909 241h1v2h-1zM909 250h1v2h-1zM909 258h1v2h-1zM909 267h1v2h-1zM909 275h1v2h-1zM909 284h1v2h-1zM909 292h1v2h-1zM909 300h1v2h-1zM909 309h1v2h-1zM909 317h1v2h-1zM909 326h1v2h-1zM909 334h1v2h-1zM909 343h1v2h-1zM909 351h1v2h-1zM909 360h1v2h-1zM909 368h1v2h-1zM909 377h1v2h-1zM909 385h1v2h-1zM909 394h1v2h-1zM909 402h1v2h-1zM909 411h1v2h-1zM909 419h1v2h-1zM909 428h1v2h-1zM909 436h1v2h-1zM909 444h1v2h-1zM909 453h1v2h-1zM909 461h1v2h-1zM909 470h1v2h-1zM909 478h1v2h-1zM909 487h1v2h-1zM909 495h1v2h-1zM909 504h1v2h-1zM909 512h1v2h-1zM909 521h1v2h-1zM909 529h1v2h-1zM909 538h1v2h-1zM909 546h1v2h-1zM909 555h1v2h-1zM909 563h1v2h-1zM909 572h1v2h-1zM909 580h1v2h-1zM909 588h1v2h-1zM909 597h1v2h-1zM909 605h1v2h-1zM909 614h1v2h-1zM909 622h1v2h-1zM909 631h1v2h-1zM909 639h1v2h-1zM909 648h1v2h-1zM909 656h1v2h-1zM909 665h1v2h-1zM909 673h1v2h-1zM53 175h2v1h-2zM61 175h2v1h-2zM69 175h2v1h-2zM77 175h2v1h-2zM86 175h2v1h-2zM94 175h2v1h-2zM102 175h2v1h-2zM110 175h2v1h-2zM118 175h2v1h-2zM126 175h2v1h-2zM135 175h2v1h-2zM143 175h2v1h-2zM151 175h2v1h-2zM159 175h2v1h-2zM167 175h2v1h-2zM176 175h2v1h-2zM184 175h2v1h-2zM192 175h2v1h-2zM200 175h2v1h-2zM208 175h2v1h-2zM216 175h2v1h-2zM225 175h2v1h-2zM233 175h2v1h-2zM241 175h2v1h-2zM249 175h2v1h-2zM257 175h2v1h-2zM266 175h2v1h-2zM274 175h2v1h-2zM282 175h2v1h-2zM290 175h2v1h-2zM298 175h2v1h-2zM306 175h2v1h-2zM315 175h2v1h-2zM323 175h2v1h-2zM331 175h2v1h-2zM339 175h2v1h-2zM347 175h2v1h-2zM356 175h2v1h-2zM364 175h2v1h-2zM372 175h2v1h-2zM380 175h2v1h-2zM388 175h2v1h-2zM396 175h2v1h-2zM405 175h2v1h-2zM413 175h2v1h-2zM421 175h2v1h-2zM429 175h2v1h-2zM437 175h2v1h-2zM446 175h2v1h-2zM454 175h2v1h-2zM462 175h2v1h-2zM470 175h2v1h-2zM478 175h2v1h-2zM486 175h2v1h-2zM495 175h2v1h-2zM503 175h2v1h-2zM511 175h2v1h-2zM519 175h2v1h-2zM527 175h2v1h-2zM536 175h2v1h-2zM544 175h2v1h-2zM552 175h2v1h-2zM560 175h2v1h-2zM568 175h2v1h-2zM577 175h2v1h-2zM585 175h2v1h-2zM593 175h2v1h-2zM601 175h2v1h-2zM609 175h2v1h-2zM617 175h2v1h-2zM626 175h2v1h-2zM634 175h2v1h-2zM642 175h2v1h-2zM650 175h2v1h-2zM658 175h2v1h-2zM667 175h2v1h-2zM675 175h2v1h-2zM683 175h2v1h-2zM691 175h2v1h-2zM699 175h2v1h-2zM707 175h2v1h-2zM716 175h2v1h-2zM724 175h2v1h-2zM732 175h2v1h-2zM740 175h2v1h-2zM748 175h2v1h-2zM757 175h2v1h-2zM765 175h2v1h-2zM773 175h2v1h-2zM781 175h2v1h-2zM789 175h2v1h-2zM797 175h2v1h-2zM806 175h2v1h-2zM814 175h2v1h-2zM822 175h2v1h-2zM830 175h2v1h-2zM838 175h2v1h-2zM847 175h2v1h-2zM855 175h2v1h-2zM863 175h2v1h-2zM871 175h2v1h-2zM879 175h2v1h-2zM887 175h2v1h-2zM896 175h2v1h-2zM904 175h2v1h-2zM912 175h2v1h-2zM920 175h2v1h-2zM928 175h2v1h-2zM937 175h2v1h-2zM945 175h2v1h-2zM53 231h2v1h-2zM61 231h2v1h-2zM69 231h2v1h-2zM77 231h2v1h-2zM86 231h2v1h-2zM94 231h2v1h-2zM102 231h2v1h-2zM110 231h2v1h-2zM118 231h2v1h-2zM126 231h2v1h-2zM135 231h2v1h-2zM143 231h2v1h-2zM151 231h2v1h-2zM159 231h2v1h-2zM167 231h2v1h-2zM176 231h2v1h-2zM184 231h2v1h-2zM192 231h2v1h-2zM200 231h2v1h-2zM208 231h2v1h-2zM216 231h2v1h-2zM225 231h2v1h-2zM233 231h2v1h-2zM241 231h2v1h-2zM249 231h2v1h-2zM257 231h2v1h-2zM266 231h2v1h-2zM274 231h2v1h-2zM282 231h2v1h-2zM290 231h2v1h-2zM298 231h2v1h-2zM306 231h2v1h-2zM315 231h2v1h-2zM323 231h2v1h-2zM331 231h2v1h-2zM339 231h2v1h-2zM347 231h2v1h-2zM356 231h2v1h-2zM364 231h2v1h-2zM372 231h2v1h-2zM380 231h2v1h-2zM388 231h2v1h-2zM396 231h2v1h-2zM405 231h2v1h-2zM413 231h2v1h-2zM421 231h2v1h-2zM429 231h2v1h-2zM437 231h2v1h-2zM446 231h2v1h-2zM454 231h2v1h-2zM462 231h2v1h-2zM470 231h2v1h-2zM478 231h2v1h-2zM486 231h2v1h-2zM495 231h2v1h-2zM503 231h2v1h-2zM511 231h2v1h-2zM519 231h2v1h-2zM527 231h2v1h-2zM536 231h2v1h-2zM544 231h2v1h-2zM552 231h2v1h-2zM560 231h2v1h-2zM568 231h2v1h-2zM577 231h2v1h-2zM585 231h2v1h-2zM593 231h2v1h-2zM601 231h2v1h-2zM609 231h2v1h-2zM617 231h2v1h-2zM626 231h2v1h-2zM634 231h2v1h-2zM642 231h2v1h-2zM650 231h2v1h-2zM658 231h2v1h-2zM667 231h2v1h-2zM675 231h2v1h-2zM683 231h2v1h-2zM691 231h2v1h-2zM699 231h2v1h-2zM707 231h2v1h-2zM716 231h2v1h-2zM724 231h2v1h-2zM732 231h2v1h-2zM740 231h2v1h-2zM748 231h2v1h-2zM757 231h2v1h-2zM765 231h2v1h-2zM773 231h2v1h-2zM781 231h2v1h-2zM789 231h2v1h-2zM797 231h2v1h-2zM806 231h2v1h-2zM814 231h2v1h-2zM822 231h2v1h-2zM830 231h2v1h-2zM838 231h2v1h-2zM847 231h2v1h-2zM855 231h2v1h-2zM863 231h2v1h-2zM871 231h2v1h-2zM879 231h2v1h-2zM887 231h2v1h-2zM896 231h2v1h-2zM904 231h2v1h-2zM912 231h2v1h-2zM920 231h2v1h-2zM928 231h2v1h-2zM937 231h2v1h-2zM945 231h2v1h-2zM53 288h2v1h-2zM61 288h2v1h-2zM69 288h2v1h-2zM77 288h2v1h-2zM86 288h2v1h-2zM94 288h2v1h-2zM102 288h2v1h-2zM110 288h2v1h-2zM118 288h2v1h-2zM126 288h2v1h-2zM135 288h2v1h-2zM143 288h2v1h-2zM151 288h2v1h-2zM159 288h2v1h-2zM167 288h2v1h-2zM176 288h2v1h-2zM184 288h2v1h-2zM192 288h2v1h-2zM200 288h2v1h-2zM208 288h2v1h-2zM216 288h2v1h-2zM225 288h2v1h-2zM233 288h2v1h-2zM241 288h2v1h-2zM249 288h2v1h-2zM257 288h2v1h-2zM266 288h2v1h-2zM274 288h2v1h-2zM282 288h2v1h-2zM290 288h2v1h-2zM298 288h2v1h-2zM306 288h2v1h-2zM315 288h2v1h-2zM323 288h2v1h-2zM331 288h2v1h-2zM339 288h2v1h-2zM347 288h2v1h-2zM356 288h2v1h-2zM364 288h2v1h-2zM372 288h2v1h-2zM380 288h2v1h-2zM388 288h2v1h-2zM396 288h2v1h-2zM405 288h2v1h-2zM413 288h2v1h-2zM421 288h2v1h-2zM429 288h2v1h-2zM437 288h2v1h-2zM446 288h2v1h-2zM454 288h2v1h-2zM462 288h2v1h-2zM470 288h2v1h-2zM478 288h2v1h-2zM486 288h2v1h-2zM495 288h2v1h-2zM503 288h2v1h-2zM511 288h2v1h-2zM519 288h2v1h-2zM527 288h2v1h-2zM536 288h2v1h-2zM544 288h2v1h-2zM552 288h2v1h-2zM560 288h2v1h-2zM568 288h2v1h-2zM577 288h2v1h-2zM585 288h2v1h-2zM593 288h2v1h-2zM601 288h2v1h-2zM609 288h2v1h-2zM617 288h2v1h-2zM626 288h2v1h-2zM634 288h2v1h-2zM642 288h2v1h-2zM650 288h2v1h-2zM658 288h2v1h-2zM667 288h2v1h-2zM675 288h2v1h-2zM683 288h2v1h-2zM691 288h2v1h-2zM699 288h2v1h-2zM707 288h2v1h-2zM716 288h2v1h-2zM724 288h2v1h-2zM732 288h2v1h-2zM740 288h2v1h-2zM748 288h2v1h-2zM757 288h2v1h-2zM765 288h2v1h-2zM773 288h2v1h-2zM781 288h2v1h-2zM789 288h2v1h-2zM797 288h2v1h-2zM806 288h2v1h-2zM814 288h2v1h-2zM822 288h2v1h-2zM830 288h2v1h-2zM838 288h2v1h-2zM847 288h2v1h-2zM855 288h2v1h-2zM863 288h2v1h-2zM871 288h2v1h-2zM879 288h2v1h-2zM887 288h2v1h-2zM896 288h2v1h-2zM904 288h2v1h-2zM912 288h2v1h-2zM920 288h2v1h-2zM928 288h2v1h-2zM937 288h2v1h-2zM945 288h2v1h-2zM53 344h2v1h-2zM61 344h2v1h-2zM69 344h2v1h-2zM77 344h2v1h-2zM86 344h2v1h-2zM94 344h2v1h-2zM102 344h2v1h-2zM110 344h2v1h-2zM118 344h2v1h-2zM126 344h2v1h-2zM135 344h2v1h-2zM143 344h2v1h-2zM151 344h2v1h-2zM159 344h2v1h-2zM167 344h2v1h-2zM176 344h2v1h-2zM184 344h2v1h-2zM192 344h2v1h-2zM200 344h2v1h-2zM208 344h2v1h-2zM216 344h2v1h-2zM225 344h2v1h-2zM233 344h2v1h-2zM241 344h2v1h-2zM249 344h2v1h-2zM257 344h2v1h-2zM266 344h2v1h-2zM274 344h2v1h-2zM282 344h2v1h-2zM290 344h2v1h-2zM298 344h2v1h-2zM306 344h2v1h-2zM315 344h2v1h-2zM323 344h2v1h-2zM331 344h2v1h-2zM339 344h2v1h-2zM347 344h2v1h-2zM356 344h2v1h-2zM364 344h2v1h-2zM372 344h2v1h-2zM380 344h2v1h-2zM388 344h2v1h-2zM396 344h2v1h-2zM405 344h2v1h-2zM413 344h2v1h-2zM421 344h2v1h-2zM429 344h2v1h-2zM437 344h2v1h-2zM446 344h2v1h-2zM454 344h2v1h-2zM462 344h2v1h-2zM470 344h2v1h-2zM478 344h2v1h-2zM486 344h2v1h-2zM495 344h2v1h-2zM503 344h2v1h-2zM511 344h2v1h-2zM519 344h2v1h-2zM527 344h2v1h-2zM536 344h2v1h-2zM544 344h2v1h-2zM552 344h2v1h-2zM560 344h2v1h-2zM568 344h2v1h-2zM577 344h2v1h-2zM585 344h2v1h-2zM593 344h2v1h-2zM601 344h2v1h-2zM609 344h2v1h-2zM617 344h2v1h-2zM626 344h2v1h-2zM634 344h2v1h-2zM642 344h2v1h-2zM650 344h2v1h-2zM658 344h2v1h-2zM667 344h2v1h-2zM675 344h2v1h-2zM683 344h2v1h-2zM691 344h2v1h-2zM699 344h2v1h-2zM707 344h2v1h-2zM716 344h2v1h-2zM724 344h2v1h-2zM732 344h2v1h-2zM740 344h2v1h-2zM748 344h2v1h-2zM757 344h2v1h-2zM765 344h2v1h-2zM773 344h2v1h-2zM781 344h2v1h-2zM789 344h2v1h-2zM797 344h2v1h-2zM806 344h2v1h-2zM814 344h2v1h-2zM822 344h2v1h-2zM830 344h2v1h-2zM838 344h2v1h-2zM847 344h2v1h-2zM855 344h2v1h-2zM863 344h2v1h-2zM871 344h2v1h-2zM879 344h2v1h-2zM887 344h2v1h-2zM896 344h2v1h-2zM904 344h2v1h-2zM912 344h2v1h-2zM920 344h2v1h-2zM928 344h2v1h-2zM937 344h2v1h-2zM945 344h2v1h-2zM53 400h2v1h-2zM61 400h2v1h-2zM69 400h2v1h-2zM77 400h2v1h-2zM86 400h2v1h-2zM94 400h2v1h-2zM102 400h2v1h-2zM110 400h2v1h-2zM118 400h2v1h-2zM126 400h2v1h-2zM135 400h2v1h-2zM143 400h2v1h-2zM151 400h2v1h-2zM159 400h2v1h-2zM167 400h2v1h-2zM176 400h2v1h-2zM184 400h2v1h-2zM192 400h2v1h-2zM200 400h2v1h-2zM208 400h2v1h-2zM216 400h2v1h-2zM225 400h2v1h-2zM233 400h2v1h-2zM241 400h2v1h-2zM249 400h2v1h-2zM257 400h2v1h-2zM266 400h2v1h-2zM274 400h2v1h-2zM282 400h2v1h-2zM290 400h2v1h-2zM298 400h2v1h-2zM306 400h2v1h-2zM315 400h2v1h-2zM323 400h2v1h-2zM331 400h2v1h-2zM339 400h2v1h-2zM347 400h2v1h-2zM356 400h2v1h-2zM364 400h2v1h-2zM372 400h2v1h-2zM380 400h2v1h-2zM388 400h2v1h-2zM396 400h2v1h-2zM405 400h2v1h-2zM413 400h2v1h-2zM421 400h2v1h-2zM429 400h2v1h-2zM437 400h2v1h-2zM446 400h2v1h-2zM454 400h2v1h-2zM462 400h2v1h-2zM470 400h2v1h-2zM478 400h2v1h-2zM486 400h2v1h-2zM495 400h2v1h-2zM503 400h2v1h-2zM511 400h2v1h-2zM519 400h2v1h-2zM527 400h2v1h-2zM536 400h2v1h-2zM544 400h2v1h-2zM552 400h2v1h-2zM560 400h2v1h-2zM568 400h2v1h-2zM577 400h2v1h-2zM585 400h2v1h-2zM593 400h2v1h-2zM601 400h2v1h-2zM609 400h2v1h-2zM617 400h2v1h-2zM626 400h2v1h-2zM634 400h2v1h-2zM642 400h2v1h-2zM650 400h2v1h-2zM658 400h2v1h-2zM667 400h2v1h-2zM675 400h2v1h-2zM683 400h2v1h-2zM691 400h2v1h-2zM699 400h2v1h-2zM707 400h2v1h-2zM716 400h2v1h-2zM724 400h2v1h-2zM732 400h2v1h-2zM740 400h2v1h-2zM748 400h2v1h-2zM757 400h2v1h-2zM765 400h2v1h-2zM773 400h2v1h-2zM781 400h2v1h-2zM789 400h2v1h-2zM797 400h2v1h-2zM806 400h2v1h-2zM814 400h2v1h-2zM822 400h2v1h-2zM830 400h2v1h-2zM838 400h2v1h-2zM847 400h2v1h-2zM855 400h2v1h-2zM863 400h2v1h-2zM871 400h2v1h-2zM879 400h2v1h-2zM887 400h2v1h-2zM896 400h2v1h-2zM904 400h2v1h-2zM912 400h2v1h-2zM920 400h2v1h-2zM928 400h2v1h-2zM937 400h2v1h-2zM945 400h2v1h-2zM53 457h2v1h-2zM61 457h2v1h-2zM69 457h2v1h-2zM77 457h2v1h-2zM86 457h2v1h-2zM94 457h2v1h-2zM102 457h2v1h-2zM110 457h2v1h-2zM118 457h2v1h-2zM126 457h2v1h-2zM135 457h2v1h-2zM143 457h2v1h-2zM151 457h2v1h-2zM159 457h2v1h-2zM167 457h2v1h-2zM176 457h2v1h-2zM184 457h2v1h-2zM192 457h2v1h-2zM200 457h2v1h-2zM208 457h2v1h-2zM216 457h2v1h-2zM225 457h2v1h-2zM233 457h2v1h-2zM241 457h2v1h-2zM249 457h2v1h-2zM257 457h2v1h-2zM266 457h2v1h-2zM274 457h2v1h-2zM282 457h2v1h-2zM290 457h2v1h-2zM298 457h2v1h-2zM306 457h2v1h-2zM315 457h2v1h-2zM323 457h2v1h-2zM331 457h2v1h-2zM339 457h2v1h-2zM347 457h2v1h-2zM356 457h2v1h-2zM364 457h2v1h-2zM372 457h2v1h-2zM380 457h2v1h-2zM388 457h2v1h-2zM396 457h2v1h-2zM405 457h2v1h-2zM413 457h2v1h-2zM421 457h2v1h-2zM429 457h2v1h-2zM437 457h2v1h-2zM446 457h2v1h-2zM454 457h2v1h-2zM462 457h2v1h-2zM470 457h2v1h-2zM478 457h2v1h-2zM486 457h2v1h-2zM495 457h2v1h-2zM503 457h2v1h-2zM511 457h2v1h-2zM519 457h2v1h-2zM527 457h2v1h-2zM536 457h2v1h-2zM544 457h2v1h-2zM552 457h2v1h-2zM560 457h2v1h-2zM568 457h2v1h-2zM577 457h2v1h-2zM585 457h2v1h-2zM593 457h2v1h-2zM601 457h2v1h-2zM609 457h2v1h-2zM617 457h2v1h-2zM626 457h2v1h-2zM634 457h2v1h-2zM642 457h2v1h-2zM650 457h2v1h-2zM658 457h2v1h-2zM667 457h2v1h-2zM675 457h2v1h-2zM683 457h2v1h-2zM691 457h2v1h-2zM699 457h2v1h-2zM707 457h2v1h-2zM716 457h2v1h-2zM724 457h2v1h-2zM732 457h2v1h-2zM740 457h2v1h-2zM748 457h2v1h-2zM757 457h2v1h-2zM765 457h2v1h-2zM773 457h2v1h-2zM781 457h2v1h-2zM789 457h2v1h-2zM797 457h2v1h-2zM806 457h2v1h-2zM814 457h2v1h-2zM822 457h2v1h-2zM830 457h2v1h-2zM838 457h2v1h-2zM847 457h2v1h-2zM855 457h2v1h-2zM863 457h2v1h-2zM871 457h2v1h-2zM879 457h2v1h-2zM887 457h2v1h-2zM896 457h2v1h-2zM904 457h2v1h-2zM912 457h2v1h-2zM920 457h2v1h-2zM928 457h2v1h-2zM937 457h2v1h-2zM945 457h2v1h-2zM53 513h2v1h-2zM61 513h2v1h-2zM69 513h2v1h-2zM77 513h2v1h-2zM86 513h2v1h-2zM94 513h2v1h-2zM102 513h2v1h-2zM110 513h2v1h-2zM118 513h2v1h-2zM126 513h2v1h-2zM135 513h2v1h-2zM143 513h2v1h-2zM151 513h2v1h-2zM159 513h2v1h-2zM167 513h2v1h-2zM176 513h2v1h-2zM184 513h2v1h-2zM192 513h2v1h-2zM200 513h2v1h-2zM208 513h2v1h-2zM216 513h2v1h-2zM225 513h2v1h-2zM233 513h2v1h-2zM241 513h2v1h-2zM249 513h2v1h-2zM257 513h2v1h-2zM266 513h2v1h-2zM274 513h2v1h-2zM282 513h2v1h-2zM290 513h2v1h-2zM298 513h2v1h-2zM306 513h2v1h-2zM315 513h2v1h-2zM323 513h2v1h-2zM331 513h2v1h-2zM339 513h2v1h-2zM347 513h2v1h-2zM356 513h2v1h-2zM364 513h2v1h-2zM372 513h2v1h-2zM380 513h2v1h-2zM388 513h2v1h-2zM396 513h2v1h-2zM405 513h2v1h-2zM413 513h2v1h-2zM421 513h2v1h-2zM429 513h2v1h-2zM437 513h2v1h-2zM446 513h2v1h-2zM454 513h2v1h-2zM462 513h2v1h-2zM470 513h2v1h-2zM478 513h2v1h-2zM486 513h2v1h-2zM495 513h2v1h-2zM503 513h2v1h-2zM511 513h2v1h-2zM519 513h2v1h-2zM527 513h2v1h-2zM536 513h2v1h-2zM544 513h2v1h-2zM552 513h2v1h-2zM560 513h2v1h-2zM568 513h2v1h-2zM577 513h2v1h-2zM585 513h2v1h-2zM593 513h2v1h-2zM601 513h2v1h-2zM609 513h2v1h-2zM617 513h2v1h-2zM626 513h2v1h-2zM634 513h2v1h-2zM642 513h2v1h-2zM650 513h2v1h-2zM658 513h2v1h-2zM667 513h2v1h-2zM675 513h2v1h-2zM683 513h2v1h-2zM691 513h2v1h-2zM699 513h2v1h-2zM707 513h2v1h-2zM716 513h2v1h-2zM724 513h2v1h-2zM732 513h2v1h-2zM740 513h2v1h-2zM748 513h2v1h-2zM757 513h2v1h-2zM765 513h2v1h-2zM773 513h2v1h-2zM781 513h2v1h-2zM789 513h2v1h-2zM797 513h2v1h-2zM806 513h2v1h-2zM814 513h2v1h-2zM822 513h2v1h-2zM830 513h2v1h-2zM838 513h2v1h-2zM847 513h2v1h-2zM855 513h2v1h-2zM863 513h2v1h-2zM871 513h2v1h-2zM879 513h2v1h-2zM887 513h2v1h-2zM896 513h2v1h-2zM904 513h2v1h-2zM912 513h2v1h-2zM920 513h2v1h-2zM928 513h2v1h-2zM937 513h2v1h-2zM945 513h2v1h-2zM53 570h2v1h-2zM61 570h2v1h-2zM69 570h2v1h-2zM77 570h2v1h-2zM86 570h2v1h-2zM94 570h2v1h-2zM102 570h2v1h-2zM110 570h2v1h-2zM118 570h2v1h-2zM126 570h2v1h-2zM135 570h2v1h-2zM143 570h2v1h-2zM151 570h2v1h-2zM159 570h2v1h-2zM167 570h2v1h-2zM176 570h2v1h-2zM184 570h2v1h-2zM192 570h2v1h-2zM200 570h2v1h-2zM208 570h2v1h-2zM216 570h2v1h-2zM225 570h2v1h-2zM233 570h2v1h-2zM241 570h2v1h-2zM249 570h2v1h-2zM257 570h2v1h-2zM266 570h2v1h-2zM274 570h2v1h-2zM282 570h2v1h-2zM290 570h2v1h-2zM298 570h2v1h-2zM306 570h2v1h-2zM315 570h2v1h-2zM323 570h2v1h-2zM331 570h2v1h-2zM339 570h2v1h-2zM347 570h2v1h-2zM356 570h2v1h-2zM364 570h2v1h-2zM372 570h2v1h-2zM380 570h2v1h-2zM388 570h2v1h-2zM396 570h2v1h-2zM405 570h2v1h-2zM413 570h2v1h-2zM421 570h2v1h-2zM429 570h2v1h-2zM437 570h2v1h-2zM446 570h2v1h-2zM454 570h2v1h-2zM462 570h2v1h-2zM470 570h2v1h-2zM478 570h2v1h-2zM486 570h2v1h-2zM495 570h2v1h-2zM503 570h2v1h-2zM511 570h2v1h-2zM519 570h2v1h-2zM527 570h2v1h-2zM536 570h2v1h-2zM544 570h2v1h-2zM552 570h2v1h-2zM560 570h2v1h-2zM568 570h2v1h-2zM577 570h2v1h-2zM585 570h2v1h-2zM593 570h2v1h-2zM601 570h2v1h-2zM609 570h2v1h-2zM617 570h2v1h-2zM626 570h2v1h-2zM634 570h2v1h-2zM642 570h2v1h-2zM650 570h2v1h-2zM658 570h2v1h-2zM667 570h2v1h-2zM675 570h2v1h-2zM683 570h2v1h-2zM691 570h2v1h-2zM699 570h2v1h-2zM707 570h2v1h-2zM716 570h2v1h-2zM724 570h2v1h-2zM732 570h2v1h-2zM740 570h2v1h-2zM748 570h2v1h-2zM757 570h2v1h-2zM765 570h2v1h-2zM773 570h2v1h-2zM781 570h2v1h-2zM789 570h2v1h-2zM797 570h2v1h-2zM806 570h2v1h-2zM814 570h2v1h-2zM822 570h2v1h-2zM830 570h2v1h-2zM838 570h2v1h-2zM847 570h2v1h-2zM855 570h2v1h-2zM863 570h2v1h-2zM871 570h2v1h-2zM879 570h2v1h-2zM887 570h2v1h-2zM896 570h2v1h-2zM904 570h2v1h-2zM912 570h2v1h-2zM920 570h2v1h-2zM928 570h2v1h-2zM937 570h2v1h-2zM945 570h2v1h-2zM53 626h2v1h-2zM61 626h2v1h-2zM69 626h2v1h-2zM77 626h2v1h-2zM86 626h2v1h-2zM94 626h2v1h-2zM102 626h2v1h-2zM110 626h2v1h-2zM118 626h2v1h-2zM126 626h2v1h-2zM135 626h2v1h-2zM143 626h2v1h-2zM151 626h2v1h-2zM159 626h2v1h-2zM167 626h2v1h-2zM176 626h2v1h-2zM184 626h2v1h-2zM192 626h2v1h-2zM200 626h2v1h-2zM208 626h2v1h-2zM216 626h2v1h-2zM225 626h2v1h-2zM233 626h2v1h-2zM241 626h2v1h-2zM249 626h2v1h-2zM257 626h2v1h-2zM266 626h2v1h-2zM274 626h2v1h-2zM282 626h2v1h-2zM290 626h2v1h-2zM298 626h2v1h-2zM306 626h2v1h-2zM315 626h2v1h-2zM323 626h2v1h-2zM331 626h2v1h-2zM339 626h2v1h-2zM347 626h2v1h-2zM356 626h2v1h-2zM364 626h2v1h-2zM372 626h2v1h-2zM380 626h2v1h-2zM388 626h2v1h-2zM396 626h2v1h-2zM405 626h2v1h-2zM413 626h2v1h-2zM421 626h2v1h-2zM429 626h2v1h-2zM437 626h2v1h-2zM446 626h2v1h-2zM454 626h2v1h-2zM462 626h2v1h-2zM470 626h2v1h-2zM478 626h2v1h-2zM486 626h2v1h-2zM495 626h2v1h-2zM503 626h2v1h-2zM511 626h2v1h-2zM519 626h2v1h-2zM527 626h2v1h-2zM536 626h2v1h-2zM544 626h2v1h-2zM552 626h2v1h-2zM560 626h2v1h-2zM568 626h2v1h-2zM577 626h2v1h-2zM585 626h2v1h-2zM593 626h2v1h-2zM601 626h2v1h-2zM609 626h2v1h-2zM617 626h2v1h-2zM626 626h2v1h-2zM634 626h2v1h-2zM642 626h2v1h-2zM650 626h2v1h-2zM658 626h2v1h-2zM667 626h2v1h-2zM675 626h2v1h-2zM683 626h2v1h-2zM691 626h2v1h-2zM699 626h2v1h-2zM707 626h2v1h-2zM716 626h2v1h-2zM724 626h2v1h-2zM732 626h2v1h-2zM740 626h2v1h-2zM748 626h2v1h-2zM757 626h2v1h-2zM765 626h2v1h-2zM773 626h2v1h-2zM781 626h2v1h-2zM789 626h2v1h-2zM797 626h2v1h-2zM806 626h2v1h-2zM814 626h2v1h-2zM822 626h2v1h-2zM830 626h2v1h-2zM838 626h2v1h-2zM847 626h2v1h-2zM855 626h2v1h-2zM863 626h2v1h-2zM871 626h2v1h-2zM879 626h2v1h-2zM887 626h2v1h-2zM896 626h2v1h-2zM904 626h2v1h-2zM912 626h2v1h-2zM920 626h2v1h-2zM928 626h2v1h-2zM937 626h2v1h-2zM945 626h2v1h-2z" fill="#979797"/>
<rect x="45" y="118" width="909" height="565" fill="none" stroke="#000" stroke-width="2"/>
<path d="M41 118H45M41 175.5H45M41 231.5H45M41 288.5H45M41 344.5H45M41 400.5H45M41 457.5H45M41 513.5H45M41 570.5H45M41 626.5H45M41 683H45M90.5 683V688M181.5 683V688M272.5 683V688M363.5 683V688M454.5 683V688M545.5 683V688M636.5 683V688M727.5 683V688M818.5 683V688M909.5 683V688" stroke="#000" stroke-width="1.3" fill="none"/>
<path d="M14.71 115.52 14.71 115.08 15.09 114.17 15.48 113.72 16.25 113.27 17.79 113.27 18.56 113.72 18.95 114.17 19.33 115.08 19.33 115.97 18.95 116.88 18.17 118.22 14.32 122.72 19.71 122.72M24.34 113.27 23.18 113.72 22.41 115.08 22.02 117.33 22.02 118.67 22.41 120.92 23.18 122.27 24.34 122.72 25.10 122.72 26.26 122.27 27.03 120.92 27.41 118.67 27.41 117.33 27.03 115.08 26.26 113.72 25.10 113.27 24.34 113.27M30.11 113.27 30.11 122.72M30.11 113.27 35.50 122.72M35.50 113.27 35.50 122.72M3.93 172.58 4.70 172.12 5.85 170.78 5.85 180.23M15.48 173.93 15.09 175.28 14.32 176.18 13.17 176.62 12.78 176.62 11.63 176.18 10.86 175.28 10.47 173.93 10.47 173.48 10.86 172.12 11.63 171.23 12.78 170.78 13.17 170.78 14.32 171.23 15.09 172.12 15.48 173.93 15.48 176.18 15.09 178.43 14.32 179.78 13.17 180.23 12.40 180.23 11.24 179.78 10.86 178.88M18.94 179.33 18.56 179.78 18.94 180.23 19.33 179.78 18.94 179.33M27.03 173.93 26.64 175.28 25.87 176.18 24.72 176.62 24.33 176.62 23.18 176.18 22.41 175.28 22.02 173.93 22.02 173.48 22.41 172.12 23.18 171.23 24.33 170.78 24.72 170.78 25.87 171.23 26.64 172.12 27.03 173.93 27.03 176.18 26.64 178.43 25.87 179.78 24.72 180.23 23.95 180.23 22.79 179.78 22.41 178.88M30.11 170.78 30.11 180.23M30.11 170.78 35.50 180.23M35.50 170.78 35.50 180.23M3.93 228.58 4.70 228.12 5.85 226.78 5.85 236.23M15.48 229.93 15.09 231.28 14.32 232.18 13.17 232.62 12.78 232.62 11.63 232.18 10.86 231.28 10.47 229.93 10.47 229.48 10.86 228.12 11.63 227.23 12.78 226.78 13.17 226.78 14.32 227.23 15.09 228.12 15.48 229.93 15.48 232.18 15.09 234.43 14.32 235.78 13.17 236.23 12.40 236.23 11.24 235.78 10.86 234.88M18.94 235.33 18.56 235.78 18.94 236.23 19.33 235.78 18.94 235.33M23.95 226.78 22.79 227.23 22.41 228.12 22.41 229.03 22.79 229.93 23.56 230.38 25.10 230.83 26.26 231.28 27.03 232.18 27.41 233.08 27.41 234.43 27.03 235.33 26.64 235.78 25.49 236.23 23.95 236.23 22.79 235.78 22.41 235.33 22.02 234.43 22.02 233.08 22.41 232.18 23.18 231.28 24.33 230.83 25.87 230.38 26.64 229.93 27.03 229.03 27.03 228.12 26.64 227.23 25.49 226.78 23.95 226.78M30.11 226.78 30.11 236.23M30.11 226.78 35.50 236.23M35.50 226.78 35.50 236.23M3.93 285.57 4.70 285.12 5.85 283.78 5.85 293.23M15.48 286.93 15.09 288.28 14.32 289.18 13.17 289.62 12.78 289.62 11.63 289.18 10.86 288.28 10.47 286.93 10.47 286.48 10.86 285.12 11.63 284.23 12.78 283.78 13.17 283.78 14.32 284.23 15.09 285.12 15.48 286.93 15.48 289.18 15.09 291.43 14.32 292.78 13.17 293.23 12.40 293.23 11.24 292.78 10.86 291.88M18.94 292.32 18.56 292.78 18.94 293.23 19.33 292.78 18.94 292.32M27.41 283.78 23.56 293.23M22.02 283.78 27.41 283.78M30.11 283.78 30.11 293.23M30.11 283.78 35.50 293.23M35.50 283.78 35.50 293.23M3.93 341.57 4.70 341.12 5.85 339.78 5.85 349.23M15.48 342.93 15.09 344.28 14.32 345.18 13.17 345.62 12.78 345.62 11.63 345.18 10.86 344.28 10.47 342.93 10.47 342.48 10.86 341.12 11.63 340.23 12.78 339.78 13.17 339.78 14.32 340.23 15.09 341.12 15.48 342.93 15.48 345.18 15.09 347.43 14.32 348.78 13.17 349.23 12.40 349.23 11.24 348.78 10.86 347.88M18.94 348.32 18.56 348.78 18.94 349.23 19.33 348.78 18.94 348.32M27.03 341.12 26.64 340.23 25.49 339.78 24.72 339.78 23.56 340.23 22.79 341.57 22.41 343.82 22.41 346.07 22.79 347.88 23.56 348.78 24.72 349.23 25.10 349.23 26.26 348.78 27.03 347.88 27.41 346.53 27.41 346.07 27.03 344.73 26.26 343.82 25.10 343.38 24.72 343.38 23.56 343.82 22.79 344.73 22.41 346.07M30.11 339.78 30.11 349.23M30.11 339.78 35.50 349.23M35.50 339.78 35.50 349.23M3.93 397.57 4.70 397.12 5.85 395.78 5.85 405.23M15.48 398.93 15.09 400.28 14.32 401.18 13.17 401.62 12.78 401.62 11.63 401.18 10.86 400.28 10.47 398.93 10.47 398.48 10.86 397.12 11.63 396.23 12.78 395.78 13.17 395.78 14.32 396.23 15.09 397.12 15.48 398.93 15.48 401.18 15.09 403.43 14.32 404.78 13.17 405.23 12.40 405.23 11.24 404.78 10.86 403.88M18.94 404.32 18.56 404.78 18.94 405.23 19.33 404.78 18.94 404.32M26.64 395.78 22.79 395.78 22.41 399.82 22.79 399.38 23.95 398.93 25.10 398.93 26.26 399.38 27.03 400.28 27.41 401.62 27.41 402.53 27.03 403.88 26.26 404.78 25.10 405.23 23.95 405.23 22.79 404.78 22.41 404.32 22.02 403.43M30.11 395.78 30.11 405.23M30.11 395.78 35.50 405.23M35.50 395.78 35.50 405.23M3.93 454.57 4.70 454.12 5.85 452.78 5.85 462.23M15.48 455.93 15.09 457.28 14.32 458.18 13.17 458.62 12.78 458.62 11.63 458.18 10.86 457.28 10.47 455.93 10.47 455.48 10.86 454.12 11.63 453.23 12.78 452.78 13.17 452.78 14.32 453.23 15.09 454.12 15.48 455.93 15.48 458.18 15.09 460.43 14.32 461.78 13.17 462.23 12.40 462.23 11.24 461.78 10.86 460.88M18.94 461.32 18.56 461.78 18.94 462.23 19.33 461.78 18.94 461.32M25.87 452.78 22.02 459.07 27.80 459.07M25.87 452.78 25.87 462.23M30.11 452.78 30.11 462.23M30.11 452.78 35.50 462.23M35.50 452.78 35.50 462.23M3.93 510.57 4.70 510.12 5.85 508.77 5.85 518.22M15.48 511.92 15.09 513.27 14.32 514.17 13.17 514.62 12.78 514.62 11.63 514.17 10.86 513.27 10.47 511.92 10.47 511.47 10.86 510.12 11.63 509.22 12.78 508.77 13.17 508.77 14.32 509.22 15.09 510.12 15.48 511.92 15.48 514.17 15.09 516.42 14.32 517.77 13.17 518.22 12.40 518.22 11.24 517.77 10.86 516.88M18.94 517.32 18.56 517.77 18.94 518.22 19.33 517.77 18.94 517.32M22.79 508.77 27.03 508.77 24.72 512.38 25.87 512.38 26.64 512.82 27.03 513.27 27.41 514.62 27.41 515.52 27.03 516.88 26.26 517.77 25.10 518.22 23.95 518.22 22.79 517.77 22.41 517.32 22.02 516.42M30.11 508.77 30.11 518.22M30.11 508.77 35.50 518.22M35.50 508.77 35.50 518.22M3.93 567.57 4.70 567.12 5.85 565.77 5.85 575.22M15.48 568.92 15.09 570.27 14.32 571.17 13.17 571.62 12.78 571.62 11.63 571.17 10.86 570.27 10.47 568.92 10.47 568.47 10.86 567.12 11.63 566.22 12.78 565.77 13.17 565.77 14.32 566.22 15.09 567.12 15.48 568.92 15.48 571.17 15.09 573.42 14.32 574.77 13.17 575.22 12.40 575.22 11.24 574.77 10.86 573.88M18.94 574.32 18.56 574.77 18.94 575.22 19.33 574.77 18.94 574.32M22.41 568.02 22.41 567.57 22.79 566.67 23.18 566.22 23.95 565.77 25.49 565.77 26.26 566.22 26.64 566.67 27.03 567.57 27.03 568.47 26.64 569.38 25.87 570.72 22.02 575.22 27.41 575.22M30.11 565.77 30.11 575.22M30.11 565.77 35.50 575.22M35.50 565.77 35.50 575.22M3.93 623.57 4.70 623.12 5.85 621.77 5.85 631.22M15.48 624.92 15.09 626.27 14.32 627.17 13.17 627.62 12.78 627.62 11.63 627.17 10.86 626.27 10.47 624.92 10.47 624.47 10.86 623.12 11.63 622.22 12.78 621.77 13.17 621.77 14.32 622.22 15.09 623.12 15.48 624.92 15.48 627.17 15.09 629.42 14.32 630.77 13.17 631.22 12.40 631.22 11.24 630.77 10.86 629.88M18.94 630.32 18.56 630.77 18.94 631.22 19.33 630.77 18.94 630.32M23.18 623.57 23.95 623.12 25.10 621.77 25.10 631.22M30.11 621.77 30.11 631.22M30.11 621.77 35.50 631.22M35.50 621.77 35.50 631.22M15.48 680.07 16.25 679.62 17.40 678.27 17.40 687.72M27.03 681.42 26.64 682.77 25.88 683.67 24.72 684.12 24.34 684.12 23.18 683.67 22.41 682.77 22.02 681.42 22.02 680.97 22.41 679.62 23.18 678.72 24.34 678.27 24.72 678.27 25.88 678.72 26.64 679.62 27.03 681.42 27.03 683.67 26.64 685.92 25.88 687.27 24.72 687.72 23.95 687.72 22.79 687.27 22.41 686.38M30.11 678.27 30.11 687.72M30.11 678.27 35.50 687.72M35.50 678.27 35.50 687.72" fill="none" stroke="#000" stroke-width="1" shape-rendering="crispEdges"/>
<path d="M74.90 690.51 73.71 690.98 73.32 691.91 73.32 692.84 73.71 693.78 74.50 694.24 76.08 694.71 77.27 695.17 78.06 696.11 78.45 697.04 78.45 698.44 78.06 699.37 77.66 699.83 76.48 700.30 74.90 700.30 73.71 699.83 73.32 699.37 72.92 698.44 72.92 697.04 73.32 696.11 74.11 695.17 75.29 694.71 76.87 694.24 77.66 693.78 78.06 692.84 78.06 691.91 77.66 690.98 76.48 690.51 74.90 690.51M82.01 692.38 82.80 691.91 83.98 690.51 83.98 700.30M89.51 699.37 89.12 699.83 89.51 700.30 89.91 699.83 89.51 699.37M96.62 690.51 92.67 697.04 98.60 697.04M96.62 690.51 96.62 700.30M100.18 690.51 102.15 700.30M104.13 690.51 102.15 700.30M104.13 690.51 106.10 700.30M108.08 690.51 106.10 700.30M165.90 690.51 164.71 690.98 164.32 691.91 164.32 692.84 164.71 693.78 165.50 694.24 167.08 694.71 168.27 695.17 169.06 696.11 169.45 697.04 169.45 698.44 169.06 699.37 168.66 699.83 167.48 700.30 165.90 700.30 164.71 699.83 164.32 699.37 163.92 698.44 163.92 697.04 164.32 696.11 165.11 695.17 166.29 694.71 167.87 694.24 168.66 693.78 169.06 692.84 169.06 691.91 168.66 690.98 167.48 690.51 165.90 690.51M173.01 692.38 173.80 691.91 174.98 690.51 174.98 700.30M180.51 699.37 180.12 699.83 180.51 700.30 180.91 699.83 180.51 699.37M184.07 692.84 184.07 692.38 184.46 691.45 184.86 690.98 185.65 690.51 187.23 690.51 188.02 690.98 188.41 691.45 188.81 692.38 188.81 693.31 188.41 694.24 187.62 695.64 183.67 700.30 189.20 700.30M191.18 690.51 193.15 700.30M195.13 690.51 193.15 700.30M195.13 690.51 197.10 700.30M199.08 690.51 197.10 700.30M262.82 690.51 261.64 690.98 261.24 691.91 261.24 692.84 261.64 693.78 262.43 694.24 264.01 694.71 265.19 695.17 265.98 696.11 266.38 697.04 266.38 698.44 265.98 699.37 265.59 699.83 264.40 700.30 262.82 700.30 261.64 699.83 261.24 699.37 260.85 698.44 260.85 697.04 261.24 696.11 262.03 695.17 263.22 694.71 264.80 694.24 265.59 693.78 265.98 692.84 265.98 691.91 265.59 690.98 264.40 690.51 262.82 690.51M269.93 692.38 270.72 691.91 271.91 690.51 271.91 700.30M276.25 690.51 278.23 700.30M280.20 690.51 278.23 700.30M280.20 690.51 282.18 700.30M284.15 690.51 282.18 700.30M347.90 690.51 346.71 690.98 346.32 691.91 346.32 692.84 346.71 693.78 347.50 694.24 349.08 694.71 350.27 695.17 351.06 696.11 351.45 697.04 351.45 698.44 351.06 699.37 350.66 699.83 349.48 700.30 347.90 700.30 346.71 699.83 346.32 699.37 345.92 698.44 345.92 697.04 346.32 696.11 347.11 695.17 348.29 694.71 349.87 694.24 350.66 693.78 351.06 692.84 351.06 691.91 350.66 690.98 349.48 690.51 347.90 690.51M356.19 690.51 355.01 690.98 354.22 692.38 353.82 694.71 353.82 696.11 354.22 698.44 355.01 699.83 356.19 700.30 356.98 700.30 358.17 699.83 358.96 698.44 359.35 696.11 359.35 694.71 358.96 692.38 358.17 690.98 356.98 690.51 356.19 690.51M362.51 699.37 362.12 699.83 362.51 700.30 362.91 699.83 362.51 699.37M367.65 690.51 366.46 690.98 366.07 691.91 366.07 692.84 366.46 693.78 367.25 694.24 368.83 694.71 370.02 695.17 370.81 696.11 371.20 697.04 371.20 698.44 370.81 699.37 370.41 699.83 369.23 700.30 367.65 700.30 366.46 699.83 366.07 699.37 365.67 698.44 365.67 697.04 366.07 696.11 366.86 695.17 368.04 694.71 369.62 694.24 370.41 693.78 370.81 692.84 370.81 691.91 370.41 690.98 369.23 690.51 367.65 690.51M373.18 690.51 375.15 700.30M377.13 690.51 375.15 700.30M377.13 690.51 379.10 700.30M381.08 690.51 379.10 700.30M438.90 690.51 437.71 690.98 437.32 691.91 437.32 692.84 437.71 693.78 438.50 694.24 440.08 694.71 441.27 695.17 442.06 696.11 442.45 697.04 442.45 698.44 442.06 699.37 441.66 699.83 440.48 700.30 438.90 700.30 437.71 699.83 437.32 699.37 436.92 698.44 436.92 697.04 437.32 696.11 438.11 695.17 439.29 694.71 440.87 694.24 441.66 693.78 442.06 692.84 442.06 691.91 441.66 690.98 440.48 690.51 438.90 690.51M447.19 690.51 446.01 690.98 445.22 692.38 444.82 694.71 444.82 696.11 445.22 698.44 446.01 699.83 447.19 700.30 447.98 700.30 449.17 699.83 449.96 698.44 450.35 696.11 450.35 694.71 449.96 692.38 449.17 690.98 447.98 690.51 447.19 690.51M453.51 699.37 453.12 699.83 453.51 700.30 453.91 699.83 453.51 699.37M461.81 691.91 461.41 690.98 460.23 690.51 459.44 690.51 458.25 690.98 457.46 692.38 457.07 694.71 457.07 697.04 457.46 698.90 458.25 699.83 459.44 700.30 459.83 700.30 461.02 699.83 461.81 698.90 462.20 697.50 462.20 697.04 461.81 695.64 461.02 694.71 459.83 694.24 459.44 694.24 458.25 694.71 457.46 695.64 457.07 697.04M464.18 690.51 466.15 700.30M468.13 690.51 466.15 700.30M468.13 690.51 470.10 700.30M472.08 690.51 470.10 700.30M529.90 690.51 528.71 690.98 528.32 691.91 528.32 692.84 528.71 693.78 529.50 694.24 531.08 694.71 532.27 695.17 533.06 696.11 533.45 697.04 533.45 698.44 533.06 699.37 532.66 699.83 531.48 700.30 529.90 700.30 528.71 699.83 528.32 699.37 527.92 698.44 527.92 697.04 528.32 696.11 529.11 695.17 530.29 694.71 531.87 694.24 532.66 693.78 533.06 692.84 533.06 691.91 532.66 690.98 531.48 690.51 529.90 690.51M538.19 690.51 537.01 690.98 536.22 692.38 535.82 694.71 535.82 696.11 536.22 698.44 537.01 699.83 538.19 700.30 538.98 700.30 540.17 699.83 540.96 698.44 541.35 696.11 541.35 694.71 540.96 692.38 540.17 690.98 538.98 690.51 538.19 690.51M544.51 699.37 544.12 699.83 544.51 700.30 544.91 699.83 544.51 699.37M551.62 690.51 547.67 697.04 553.60 697.04M551.62 690.51 551.62 700.30M555.18 690.51 557.15 700.30M559.13 690.51 557.15 700.30M559.13 690.51 561.10 700.30M563.08 690.51 561.10 700.30M620.90 690.51 619.71 690.98 619.32 691.91 619.32 692.84 619.71 693.78 620.50 694.24 622.08 694.71 623.27 695.17 624.06 696.11 624.45 697.04 624.45 698.44 624.06 699.37 623.66 699.83 622.48 700.30 620.90 700.30 619.71 699.83 619.32 699.37 618.92 698.44 618.92 697.04 619.32 696.11 620.11 695.17 621.29 694.71 622.87 694.24 623.66 693.78 624.06 692.84 624.06 691.91 623.66 690.98 622.48 690.51 620.90 690.51M629.19 690.51 628.01 690.98 627.22 692.38 626.82 694.71 626.82 696.11 627.22 698.44 628.01 699.83 629.19 700.30 629.98 700.30 631.17 699.83 631.96 698.44 632.35 696.11 632.35 694.71 631.96 692.38 631.17 690.98 629.98 690.51 629.19 690.51M635.51 699.37 635.12 699.83 635.51 700.30 635.91 699.83 635.51 699.37M639.07 692.84 639.07 692.38 639.46 691.45 639.86 690.98 640.65 690.51 642.23 690.51 643.02 690.98 643.41 691.45 643.81 692.38 643.81 693.31 643.41 694.24 642.62 695.64 638.67 700.30 644.20 700.30M646.18 690.51 648.15 700.30M650.13 690.51 648.15 700.30M650.13 690.51 652.10 700.30M654.08 690.51 652.10 700.30M717.82 690.51 716.64 690.98 716.24 691.91 716.24 692.84 716.64 693.78 717.43 694.24 719.01 694.71 720.19 695.17 720.98 696.11 721.38 697.04 721.38 698.44 720.98 699.37 720.59 699.83 719.40 700.30 717.82 700.30 716.64 699.83 716.24 699.37 715.85 698.44 715.85 697.04 716.24 696.11 717.03 695.17 718.22 694.71 719.80 694.24 720.59 693.78 720.98 692.84 720.98 691.91 720.59 690.98 719.40 690.51 717.82 690.51M726.12 690.51 724.93 690.98 724.14 692.38 723.75 694.71 723.75 696.11 724.14 698.44 724.93 699.83 726.12 700.30 726.91 700.30 728.09 699.83 728.88 698.44 729.28 696.11 729.28 694.71 728.88 692.38 728.09 690.98 726.91 690.51 726.12 690.51M731.25 690.51 733.23 700.30M735.20 690.51 733.23 700.30M735.20 690.51 737.18 700.30M739.15 690.51 737.18 700.30M806.45 690.51 802.50 700.30M800.92 690.51 806.45 690.51M813.96 693.78 813.56 695.17 812.77 696.11 811.59 696.57 811.19 696.57 810.01 696.11 809.22 695.17 808.82 693.78 808.82 693.31 809.22 691.91 810.01 690.98 811.19 690.51 811.59 690.51 812.77 690.98 813.56 691.91 813.96 693.78 813.96 696.11 813.56 698.44 812.77 699.83 811.59 700.30 810.80 700.30 809.61 699.83 809.22 698.90M817.51 699.37 817.12 699.83 817.51 700.30 817.91 699.83 817.51 699.37M822.65 690.51 821.46 690.98 821.07 691.91 821.07 692.84 821.46 693.78 822.25 694.24 823.83 694.71 825.02 695.17 825.81 696.11 826.20 697.04 826.20 698.44 825.81 699.37 825.41 699.83 824.23 700.30 822.65 700.30 821.46 699.83 821.07 699.37 820.67 698.44 820.67 697.04 821.07 696.11 821.86 695.17 823.04 694.71 824.62 694.24 825.41 693.78 825.81 692.84 825.81 691.91 825.41 690.98 824.23 690.51 822.65 690.51M828.18 690.51 830.15 700.30M832.13 690.51 830.15 700.30M832.13 690.51 834.10 700.30M836.08 690.51 834.10 700.30M897.45 690.51 893.50 700.30M891.92 690.51 897.45 690.51M904.96 693.78 904.56 695.17 903.77 696.11 902.59 696.57 902.19 696.57 901.01 696.11 900.22 695.17 899.82 693.78 899.82 693.31 900.22 691.91 901.01 690.98 902.19 690.51 902.59 690.51 903.77 690.98 904.56 691.91 904.96 693.78 904.96 696.11 904.56 698.44 903.77 699.83 902.59 700.30 901.80 700.30 900.61 699.83 900.22 698.90M908.51 699.37 908.12 699.83 908.51 700.30 908.91 699.83 908.51 699.37M916.81 691.91 916.41 690.98 915.23 690.51 914.44 690.51 913.25 690.98 912.46 692.38 912.07 694.71 912.07 697.04 912.46 698.90 913.25 699.83 914.44 700.30 914.83 700.30 916.02 699.83 916.81 698.90 917.20 697.50 917.20 697.04 916.81 695.64 916.02 694.71 914.83 694.24 914.44 694.24 913.25 694.71 912.46 695.64 912.07 697.04M919.18 690.51 921.15 700.30M923.13 690.51 921.15 700.30M923.13 690.51 925.10 700.30M927.08 690.51 925.10 700.30" fill="none" stroke="#000" stroke-width="1" shape-rendering="crispEdges"/>
<rect x="144.5" y="742.5" width="44.0" height="18.0" fill="#808080" stroke="#000" stroke-width="1"/><rect x="188.5" y="742.5" width="45.0" height="18.0" fill="#a000c8" stroke="#000" stroke-width="1"/><rect x="233.5" y="742.5" width="44.0" height="18.0" fill="#8200dc" stroke="#000" stroke-width="1"/><rect x="277.5" y="742.5" width="45.0" height="18.0" fill="#5a3cf0" stroke="#000" stroke-width="1"/><rect x="322.5" y="742.5" width="44.0" height="18.0" fill="#1e3cff" stroke="#000" stroke-width="1"/><rect x="366.5" y="742.5" width="45.0" height="18.0" fill="#00a0ff" stroke="#000" stroke-width="1"/><rect x="411.5" y="742.5" width="44.0" height="18.0" fill="#00c8c8" stroke="#000" stroke-width="1"/><rect x="455.5" y="742.5" width="45.0" height="18.0" fill="#00d28c" stroke="#000" stroke-width="1"/><rect x="500.5" y="742.5" width="44.0" height="18.0" fill="#00dc00" stroke="#000" stroke-width="1"/><rect x="544.5" y="742.5" width="44.0" height="18.0" fill="#a0e632" stroke="#000" stroke-width="1"/><rect x="588.5" y="742.5" width="45.0" height="18.0" fill="#e6dc32" stroke="#000" stroke-width="1"/><rect x="633.5" y="742.5" width="44.0" height="18.0" fill="#e6af2d" stroke="#000" stroke-width="1"/><rect x="677.5" y="742.5" width="45.0" height="18.0" fill="#f08228" stroke="#000" stroke-width="1"/><rect x="722.5" y="742.5" width="44.0" height="18.0" fill="#faa0a0" stroke="#000" stroke-width="1"/><rect x="766.5" y="742.5" width="45.0" height="18.0" fill="#ff0000" stroke="#000" stroke-width="1"/><rect x="811.5" y="742.5" width="44.0" height="18.0" fill="#fa3c3c" stroke="#000" stroke-width="1"/>
<path d="M144.5 742.5L100.5 751.5L144.5 760.5" fill="#fff" stroke="#000" stroke-width="1"/>
<path d="M855.5 742.5L900.5 751.5L855.5 760.5Z" fill="#e6108c" stroke="#000" stroke-width="1"/>
<path d="M135.86 766.75 134.24 767.26 133.16 768.78 132.62 771.32 132.62 772.84 133.16 775.37 134.24 776.89 135.86 777.40 136.94 777.40 138.56 776.89 139.64 775.37 140.18 772.84 140.18 771.32 139.64 768.78 138.56 767.26 136.94 766.75 135.86 766.75M144.50 776.39 143.96 776.89 144.50 777.40 145.04 776.89 144.50 776.39M155.30 766.75 149.90 766.75 149.36 771.32 149.90 770.81 151.52 770.30 153.14 770.30 154.76 770.81 155.84 771.82 156.38 773.34 156.38 774.36 155.84 775.88 154.76 776.89 153.14 777.40 151.52 777.40 149.90 776.89 149.36 776.39 148.82 775.37M187.15 768.78 188.23 768.27 189.85 766.75 189.85 777.40M230.26 769.29 230.26 768.78 230.80 767.77 231.34 767.26 232.42 766.75 234.58 766.75 235.66 767.26 236.20 767.77 236.74 768.78 236.74 769.79 236.20 770.81 235.12 772.33 229.72 777.40 237.28 777.40M280.20 766.75 274.80 766.75 274.26 771.32 274.80 770.81 276.42 770.30 278.04 770.30 279.66 770.81 280.74 771.82 281.28 773.34 281.28 774.36 280.74 775.88 279.66 776.89 278.04 777.40 276.42 777.40 274.80 776.89 274.26 776.39 273.72 775.37M314.13 768.78 315.21 768.27 316.83 766.75 316.83 777.40M326.55 766.75 324.93 767.26 323.85 768.78 323.31 771.32 323.31 772.84 323.85 775.37 324.93 776.89 326.55 777.40 327.63 777.40 329.25 776.89 330.33 775.37 330.87 772.84 330.87 771.32 330.33 768.78 329.25 767.26 327.63 766.75 326.55 766.75M358.13 768.78 359.21 768.27 360.83 766.75 360.83 777.40M373.79 766.75 368.39 766.75 367.85 771.32 368.39 770.81 370.01 770.30 371.63 770.30 373.25 770.81 374.33 771.82 374.87 773.34 374.87 774.36 374.33 775.88 373.25 776.89 371.63 777.40 370.01 777.40 368.39 776.89 367.85 776.39 367.31 775.37M402.86 769.29 402.86 768.78 403.40 767.77 403.94 767.26 405.02 766.75 407.18 766.75 408.26 767.26 408.80 767.77 409.34 768.78 409.34 769.79 408.80 770.81 407.72 772.33 402.32 777.40 409.88 777.40M416.36 766.75 414.74 767.26 413.66 768.78 413.12 771.32 413.12 772.84 413.66 775.37 414.74 776.89 416.36 777.40 417.44 777.40 419.06 776.89 420.14 775.37 420.68 772.84 420.68 771.32 420.14 768.78 419.06 767.26 417.44 766.75 416.36 766.75M446.86 769.29 446.86 768.78 447.40 767.77 447.94 767.26 449.02 766.75 451.18 766.75 452.26 767.26 452.80 767.77 453.34 768.78 453.34 769.79 452.80 770.81 451.72 772.33 446.32 777.40 453.88 777.40M463.60 766.75 458.20 766.75 457.66 771.32 458.20 770.81 459.82 770.30 461.44 770.30 463.06 770.81 464.14 771.82 464.68 773.34 464.68 774.36 464.14 775.88 463.06 776.89 461.44 777.40 459.82 777.40 458.20 776.89 457.66 776.39 457.12 775.37M492.40 766.75 498.34 766.75 495.10 770.81 496.72 770.81 497.80 771.32 498.34 771.82 498.88 773.34 498.88 774.36 498.34 775.88 497.26 776.89 495.64 777.40 494.02 777.40 492.40 776.89 491.86 776.39 491.32 775.37M505.36 766.75 503.74 767.26 502.66 768.78 502.12 771.32 502.12 772.84 502.66 775.37 503.74 776.89 505.36 777.40 506.44 777.40 508.06 776.89 509.14 775.37 509.68 772.84 509.68 771.32 509.14 768.78 508.06 767.26 506.44 766.75 505.36 766.75M536.40 766.75 542.34 766.75 539.10 770.81 540.72 770.81 541.80 771.32 542.34 771.82 542.88 773.34 542.88 774.36 542.34 775.88 541.26 776.89 539.64 777.40 538.02 777.40 536.40 776.89 535.86 776.39 535.32 775.37M552.60 766.75 547.20 766.75 546.66 771.32 547.20 770.81 548.82 770.30 550.44 770.30 552.06 770.81 553.14 771.82 553.68 773.34 553.68 774.36 553.14 775.88 552.06 776.89 550.44 777.40 548.82 777.40 547.20 776.89 546.66 776.39 546.12 775.37M584.72 766.75 579.32 773.85 587.42 773.85M584.72 766.75 584.72 777.40M593.36 766.75 591.74 767.26 590.66 768.78 590.12 771.32 590.12 772.84 590.66 775.37 591.74 776.89 593.36 777.40 594.44 777.40 596.06 776.89 597.14 775.37 597.68 772.84 597.68 771.32 597.14 768.78 596.06 767.26 594.44 766.75 593.36 766.75M630.80 766.75 625.40 766.75 624.86 771.32 625.40 770.81 627.02 770.30 628.64 770.30 630.26 770.81 631.34 771.82 631.88 773.34 631.88 774.36 631.34 775.88 630.26 776.89 628.64 777.40 627.02 777.40 625.40 776.89 624.86 776.39 624.32 775.37M638.36 766.75 636.74 767.26 635.66 768.78 635.12 771.32 635.12 772.84 635.66 775.37 636.74 776.89 638.36 777.40 639.44 777.40 641.06 776.89 642.14 775.37 642.68 772.84 642.68 771.32 642.14 768.78 641.06 767.26 639.44 766.75 638.36 766.75M675.07 768.27 674.53 767.26 672.91 766.75 671.83 766.75 670.21 767.26 669.13 768.78 668.59 771.32 668.59 773.85 669.13 775.88 670.21 776.89 671.83 777.40 672.37 777.40 673.99 776.89 675.07 775.88 675.61 774.36 675.61 773.85 675.07 772.33 673.99 771.32 672.37 770.81 671.83 770.81 670.21 771.32 669.13 772.33 668.59 773.85M682.09 766.75 680.47 767.26 679.39 768.78 678.85 771.32 678.85 772.84 679.39 775.37 680.47 776.89 682.09 777.40 683.17 777.40 684.79 776.89 685.87 775.37 686.41 772.84 686.41 771.32 685.87 768.78 684.79 767.26 683.17 766.75 682.09 766.75M720.88 766.75 715.48 777.40M713.32 766.75 720.88 766.75M727.36 766.75 725.74 767.26 724.66 768.78 724.12 771.32 724.12 772.84 724.66 775.37 725.74 776.89 727.36 777.40 728.44 777.40 730.06 776.89 731.14 775.37 731.68 772.84 731.68 771.32 731.14 768.78 730.06 767.26 728.44 766.75 727.36 766.75M760.02 766.75 758.40 767.26 757.86 768.27 757.86 769.29 758.40 770.30 759.48 770.81 761.64 771.32 763.26 771.82 764.34 772.84 764.88 773.85 764.88 775.37 764.34 776.39 763.80 776.89 762.18 777.40 760.02 777.40 758.40 776.89 757.86 776.39 757.32 775.37 757.32 773.85 757.86 772.84 758.94 771.82 760.56 771.32 762.72 770.81 763.80 770.30 764.34 769.29 764.34 768.27 763.80 767.26 762.18 766.75 760.02 766.75M771.36 766.75 769.74 767.26 768.66 768.78 768.12 771.32 768.12 772.84 768.66 775.37 769.74 776.89 771.36 777.40 772.44 777.40 774.06 776.89 775.14 775.37 775.68 772.84 775.68 771.32 775.14 768.78 774.06 767.26 772.44 766.75 771.36 766.75M809.34 770.30 808.80 771.82 807.72 772.84 806.10 773.34 805.56 773.34 803.94 772.84 802.86 771.82 802.32 770.30 802.32 769.79 802.86 768.27 803.94 767.26 805.56 766.75 806.10 766.75 807.72 767.26 808.80 768.27 809.34 770.30 809.34 772.84 808.80 775.37 807.72 776.89 806.10 777.40 805.02 777.40 803.40 776.89 802.86 775.88M816.36 766.75 814.74 767.26 813.66 768.78 813.12 771.32 813.12 772.84 813.66 775.37 814.74 776.89 816.36 777.40 817.44 777.40 819.06 776.89 820.14 775.37 820.68 772.84 820.68 771.32 820.14 768.78 819.06 767.26 817.44 766.75 816.36 766.75M841.73 768.78 842.81 768.27 844.43 766.75 844.43 777.40M854.15 766.75 852.53 767.26 851.45 768.78 850.91 771.32 850.91 772.84 851.45 775.37 852.53 776.89 854.15 777.40 855.23 777.40 856.85 776.89 857.93 775.37 858.47 772.84 858.47 771.32 857.93 768.78 856.85 767.26 855.23 766.75 854.15 766.75M864.95 766.75 863.33 767.26 862.25 768.78 861.71 771.32 861.71 772.84 862.25 775.37 863.33 776.89 864.95 777.40 866.03 777.40 867.65 776.89 868.73 775.37 869.27 772.84 869.27 771.32 868.73 768.78 867.65 767.26 866.03 766.75 864.95 766.75" fill="none" stroke="#000" stroke-width="1" shape-rendering="crispEdges"/>
</svg></body></html>
